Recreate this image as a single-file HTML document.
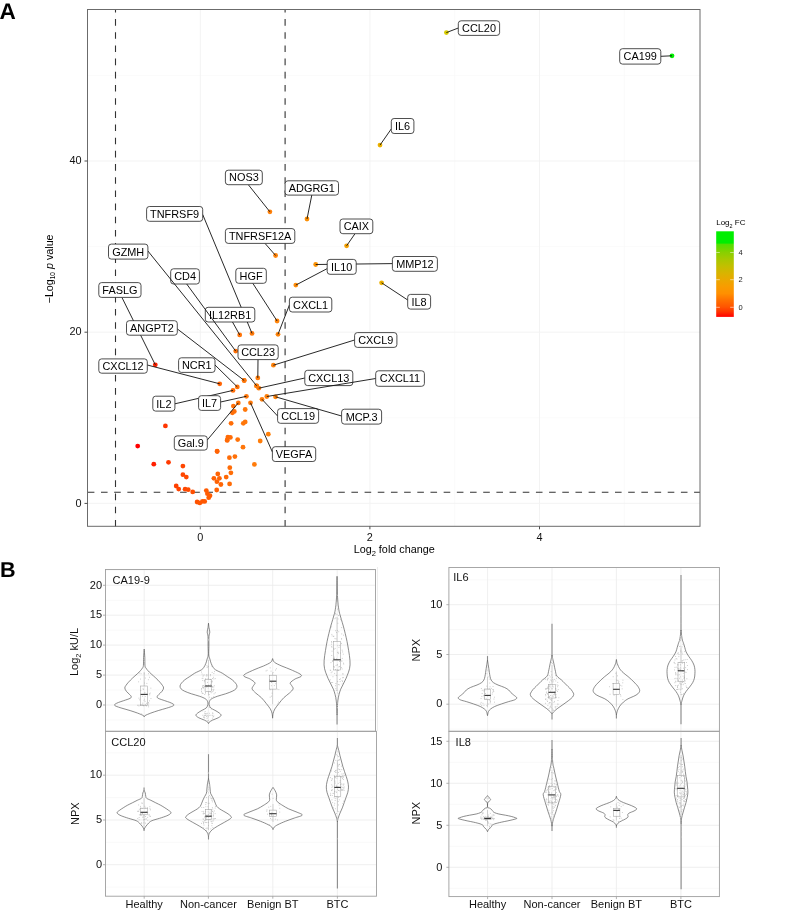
<!DOCTYPE html>
<html><head><meta charset="utf-8"><style>
html,body{margin:0;padding:0;background:#fff;}
svg{display:block;will-change:transform;}
text{font-family:"Liberation Sans", sans-serif;}
</style></head><body>
<svg width="787" height="913" viewBox="0 0 787 913" font-family='"Liberation Sans", sans-serif'><rect x="0" y="0" width="787" height="913" fill="#fff"/>
<line x1="115.5" y1="9.5" x2="115.5" y2="526.3" stroke="#f7f7f7" stroke-width="0.6"/><line x1="285.1" y1="9.5" x2="285.1" y2="526.3" stroke="#f7f7f7" stroke-width="0.6"/><line x1="454.7" y1="9.5" x2="454.7" y2="526.3" stroke="#f7f7f7" stroke-width="0.6"/><line x1="624.3" y1="9.5" x2="624.3" y2="526.3" stroke="#f7f7f7" stroke-width="0.6"/><line x1="87.5" y1="417.8" x2="700.0" y2="417.8" stroke="#f7f7f7" stroke-width="0.6"/><line x1="87.5" y1="246.6" x2="700.0" y2="246.6" stroke="#f7f7f7" stroke-width="0.6"/><line x1="87.5" y1="75.4" x2="700.0" y2="75.4" stroke="#f7f7f7" stroke-width="0.6"/><line x1="200.3" y1="9.5" x2="200.3" y2="526.3" stroke="#f2f2f2" stroke-width="0.9"/><line x1="369.9" y1="9.5" x2="369.9" y2="526.3" stroke="#f2f2f2" stroke-width="0.9"/><line x1="539.5" y1="9.5" x2="539.5" y2="526.3" stroke="#f2f2f2" stroke-width="0.9"/><line x1="87.5" y1="503.4" x2="700.0" y2="503.4" stroke="#f2f2f2" stroke-width="0.9"/><line x1="87.5" y1="332.2" x2="700.0" y2="332.2" stroke="#f2f2f2" stroke-width="0.9"/><line x1="87.5" y1="161.0" x2="700.0" y2="161.0" stroke="#f2f2f2" stroke-width="0.9"/>
<line x1="115.5" y1="526.5" x2="115.5" y2="9.5" stroke="#333" stroke-width="1.1" stroke-dasharray="6.6 6.58"/>
<line x1="285.1" y1="526.5" x2="285.1" y2="9.5" stroke="#333" stroke-width="1.1" stroke-dasharray="6.6 6.58"/>
<line x1="87.8" y1="492.2" x2="700.0" y2="492.2" stroke="#333" stroke-width="1.1" stroke-dasharray="6.6 6.58"/>
<circle cx="153.8" cy="464.2" r="2.4" fill="#ff1f00"/><circle cx="168.5" cy="462.3" r="2.4" fill="#ff3a00"/><circle cx="137.7" cy="446.1" r="2.4" fill="#ff0000"/><circle cx="165.4" cy="425.9" r="2.4" fill="#ff3600"/><circle cx="182.9" cy="466.1" r="2.4" fill="#ff4600"/><circle cx="182.9" cy="474.7" r="2.4" fill="#ff4600"/><circle cx="186.3" cy="477.1" r="2.4" fill="#ff4900"/><circle cx="176.2" cy="486.0" r="2.4" fill="#ff4000"/><circle cx="178.7" cy="489.1" r="2.4" fill="#ff4300"/><circle cx="185.1" cy="489.2" r="2.4" fill="#ff4800"/><circle cx="188.2" cy="489.7" r="2.4" fill="#ff4b00"/><circle cx="192.7" cy="491.9" r="2.4" fill="#ff4f00"/><circle cx="197.1" cy="502.0" r="2.4" fill="#ff5200"/><circle cx="199.8" cy="502.9" r="2.4" fill="#ff5500"/><circle cx="202.5" cy="501.3" r="2.4" fill="#ff5701"/><circle cx="204.7" cy="501.4" r="2.4" fill="#ff5801"/><circle cx="206.3" cy="490.6" r="2.4" fill="#ff5a01"/><circle cx="207.4" cy="493.7" r="2.4" fill="#ff5b02"/><circle cx="210.0" cy="495.7" r="2.4" fill="#ff5d02"/><circle cx="208.7" cy="497.7" r="2.4" fill="#ff5c02"/><circle cx="216.7" cy="490.0" r="2.4" fill="#ff6204"/><circle cx="213.9" cy="478.3" r="2.4" fill="#ff6003"/><circle cx="217.8" cy="473.9" r="2.4" fill="#ff6304"/><circle cx="219.4" cy="478.3" r="2.4" fill="#ff6405"/><circle cx="216.9" cy="481.7" r="2.4" fill="#ff6204"/><circle cx="220.9" cy="484.5" r="2.4" fill="#ff6505"/><circle cx="226.2" cy="477.1" r="2.4" fill="#ff6906"/><circle cx="229.6" cy="483.9" r="2.4" fill="#ff6c07"/><circle cx="230.9" cy="472.8" r="2.4" fill="#ff6d07"/><circle cx="229.8" cy="467.7" r="2.4" fill="#ff6c07"/><circle cx="229.4" cy="457.7" r="2.4" fill="#ff6c07"/><circle cx="234.9" cy="456.6" r="2.4" fill="#ff7008"/><circle cx="217.1" cy="451.1" r="2.4" fill="#ff6204"/><circle cx="227.2" cy="440.4" r="2.4" fill="#ff6a06"/><circle cx="243.0" cy="447.2" r="2.4" fill="#ff760a"/><circle cx="254.4" cy="464.4" r="2.4" fill="#ff7b0a"/><circle cx="260.2" cy="441.0" r="2.4" fill="#ff7d0a"/><circle cx="268.3" cy="434.2" r="2.4" fill="#ff800a"/><circle cx="233.4" cy="406.1" r="2.4" fill="#ff6f08"/><circle cx="245.2" cy="409.5" r="2.4" fill="#ff770a"/><circle cx="234.3" cy="411.4" r="2.4" fill="#ff6f08"/><circle cx="232.4" cy="412.8" r="2.4" fill="#ff6e08"/><circle cx="231.1" cy="423.3" r="2.4" fill="#ff6d07"/><circle cx="243.3" cy="423.3" r="2.4" fill="#ff760a"/><circle cx="245.2" cy="421.9" r="2.4" fill="#ff770a"/><circle cx="227.9" cy="437.1" r="2.4" fill="#ff6a07"/><circle cx="230.4" cy="437.4" r="2.4" fill="#ff6c07"/><circle cx="227.2" cy="439.9" r="2.4" fill="#ff6a06"/><circle cx="237.7" cy="439.6" r="2.4" fill="#ff7209"/><circle cx="217.2" cy="451.5" r="2.4" fill="#ff6204"/><circle cx="244.2" cy="380.5" r="2.4" fill="#ff770a"/><circle cx="256.6" cy="385.8" r="2.4" fill="#ff7c0a"/><circle cx="446.4" cy="32.6" r="2.4" fill="#d8cc00"/><circle cx="672.0" cy="55.8" r="2.4" fill="#00ee00"/><circle cx="380.0" cy="145.1" r="2.4" fill="#ecb100"/><circle cx="269.9" cy="211.8" r="2.4" fill="#ff810a"/><circle cx="307.0" cy="219.0" r="2.4" fill="#fc8f05"/><circle cx="252.0" cy="333.4" r="2.4" fill="#ff7a0a"/><circle cx="346.6" cy="245.8" r="2.4" fill="#f5a000"/><circle cx="275.6" cy="255.5" r="2.4" fill="#ff830a"/><circle cx="256.6" cy="385.8" r="2.4" fill="#ff7c0a"/><circle cx="315.7" cy="264.5" r="2.4" fill="#fb9203"/><circle cx="295.8" cy="285.1" r="2.4" fill="#fe8b07"/><circle cx="235.7" cy="351.1" r="2.4" fill="#ff7108"/><circle cx="277.1" cy="321.0" r="2.4" fill="#ff840a"/><circle cx="155.3" cy="364.8" r="2.4" fill="#ff2200"/><circle cx="381.6" cy="282.8" r="2.4" fill="#ecb100"/><circle cx="278.0" cy="334.3" r="2.4" fill="#ff840a"/><circle cx="239.7" cy="334.9" r="2.4" fill="#ff7409"/><circle cx="244.2" cy="380.5" r="2.4" fill="#ff770a"/><circle cx="273.4" cy="365.2" r="2.4" fill="#ff820a"/><circle cx="257.8" cy="377.9" r="2.4" fill="#ff7c0a"/><circle cx="219.7" cy="383.8" r="2.4" fill="#ff6405"/><circle cx="237.3" cy="386.9" r="2.4" fill="#ff7209"/><circle cx="258.8" cy="388.2" r="2.4" fill="#ff7c0a"/><circle cx="266.8" cy="396.5" r="2.4" fill="#ff800a"/><circle cx="233.0" cy="390.4" r="2.4" fill="#ff6e08"/><circle cx="246.4" cy="396.3" r="2.4" fill="#ff770a"/><circle cx="262.0" cy="399.3" r="2.4" fill="#ff7e0a"/><circle cx="275.5" cy="396.8" r="2.4" fill="#ff830a"/><circle cx="238.3" cy="402.9" r="2.4" fill="#ff7309"/><circle cx="250.5" cy="402.8" r="2.4" fill="#ff790a"/>
<line x1="458.3" y1="28.0" x2="446.4" y2="32.6" stroke="#111" stroke-width="0.9"/><rect x="458.3" y="20.8" width="41.3" height="14.6" rx="2.8" fill="#fff" stroke="#222" stroke-width="0.8"/><text x="479.0" y="32.0" text-anchor="middle" font-size="10.9">CCL20</text><line x1="660.8" y1="56.3" x2="672.0" y2="55.8" stroke="#111" stroke-width="0.9"/><rect x="619.7" y="48.7" width="41.1" height="15.4" rx="2.8" fill="#fff" stroke="#222" stroke-width="0.8"/><text x="640.2" y="60.2" text-anchor="middle" font-size="10.9">CA199</text><line x1="391.3" y1="128.9" x2="380.0" y2="145.1" stroke="#111" stroke-width="0.9"/><rect x="391.3" y="118.5" width="22.6" height="15.0" rx="2.8" fill="#fff" stroke="#222" stroke-width="0.8"/><text x="402.6" y="129.8" text-anchor="middle" font-size="10.9">IL6</text><line x1="248.3" y1="184.7" x2="269.9" y2="211.8" stroke="#111" stroke-width="0.9"/><rect x="225.4" y="170.2" width="36.9" height="14.5" rx="2.8" fill="#fff" stroke="#222" stroke-width="0.8"/><text x="243.9" y="181.3" text-anchor="middle" font-size="10.9">NOS3</text><line x1="311.8" y1="195.1" x2="307.0" y2="219.0" stroke="#111" stroke-width="0.9"/><rect x="285.1" y="180.8" width="53.4" height="14.3" rx="2.8" fill="#fff" stroke="#222" stroke-width="0.8"/><text x="311.8" y="191.8" text-anchor="middle" font-size="10.9">ADGRG1</text><line x1="355.0" y1="233.7" x2="346.6" y2="245.8" stroke="#111" stroke-width="0.9"/><rect x="340.0" y="219.0" width="32.8" height="14.7" rx="2.8" fill="#fff" stroke="#222" stroke-width="0.8"/><text x="356.4" y="230.2" text-anchor="middle" font-size="10.9">CAIX</text><line x1="265.0" y1="243.4" x2="275.6" y2="255.5" stroke="#111" stroke-width="0.9"/><rect x="225.4" y="228.6" width="69.4" height="14.8" rx="2.8" fill="#fff" stroke="#222" stroke-width="0.8"/><text x="260.1" y="239.8" text-anchor="middle" font-size="10.9">TNFRSF12A</text><line x1="252.8" y1="283.3" x2="277.1" y2="321.0" stroke="#111" stroke-width="0.9"/><rect x="235.8" y="268.3" width="30.5" height="15.0" rx="2.8" fill="#fff" stroke="#222" stroke-width="0.8"/><text x="251.1" y="279.7" text-anchor="middle" font-size="10.9">HGF</text><line x1="407.7" y1="300.0" x2="381.6" y2="282.8" stroke="#111" stroke-width="0.9"/><rect x="407.7" y="294.4" width="22.9" height="14.7" rx="2.8" fill="#fff" stroke="#222" stroke-width="0.8"/><text x="419.1" y="305.6" text-anchor="middle" font-size="10.9">IL8</text><line x1="289.4" y1="305.0" x2="278.0" y2="334.3" stroke="#111" stroke-width="0.9"/><rect x="289.4" y="297.2" width="42.4" height="14.8" rx="2.8" fill="#fff" stroke="#222" stroke-width="0.8"/><text x="310.6" y="308.5" text-anchor="middle" font-size="10.9">CXCL1</text><line x1="354.6" y1="340.0" x2="273.4" y2="365.2" stroke="#111" stroke-width="0.9"/><rect x="354.6" y="332.6" width="42.3" height="14.8" rx="2.8" fill="#fff" stroke="#222" stroke-width="0.8"/><text x="375.8" y="343.9" text-anchor="middle" font-size="10.9">CXCL9</text><line x1="258.0" y1="359.6" x2="257.8" y2="377.9" stroke="#111" stroke-width="0.9"/><rect x="238.0" y="344.9" width="40.2" height="14.7" rx="2.8" fill="#fff" stroke="#222" stroke-width="0.8"/><text x="258.1" y="356.1" text-anchor="middle" font-size="10.9">CCL23</text><line x1="147.3" y1="365.0" x2="219.7" y2="383.8" stroke="#111" stroke-width="0.9"/><rect x="98.8" y="358.9" width="48.5" height="14.3" rx="2.8" fill="#fff" stroke="#222" stroke-width="0.8"/><text x="123.1" y="369.9" text-anchor="middle" font-size="10.9">CXCL12</text><line x1="215.0" y1="365.0" x2="237.3" y2="386.9" stroke="#111" stroke-width="0.9"/><rect x="178.6" y="357.8" width="36.4" height="14.6" rx="2.8" fill="#fff" stroke="#222" stroke-width="0.8"/><text x="196.8" y="369.0" text-anchor="middle" font-size="10.9">NCR1</text><line x1="277.6" y1="416.0" x2="262.0" y2="399.3" stroke="#111" stroke-width="0.9"/><rect x="277.6" y="408.6" width="41.0" height="14.7" rx="2.8" fill="#fff" stroke="#222" stroke-width="0.8"/><text x="298.1" y="419.8" text-anchor="middle" font-size="10.9">CCL19</text><line x1="341.6" y1="416.0" x2="275.5" y2="396.8" stroke="#111" stroke-width="0.9"/><rect x="341.6" y="409.2" width="40.0" height="14.9" rx="2.8" fill="#fff" stroke="#222" stroke-width="0.8"/><text x="361.6" y="420.5" text-anchor="middle" font-size="10.9">MCP.3</text><line x1="207.3" y1="440.0" x2="238.3" y2="402.9" stroke="#111" stroke-width="0.9"/><rect x="174.3" y="435.9" width="33.0" height="14.2" rx="2.8" fill="#fff" stroke="#222" stroke-width="0.8"/><text x="190.8" y="446.9" text-anchor="middle" font-size="10.9">Gal.9</text><line x1="272.4" y1="452.0" x2="250.5" y2="402.8" stroke="#111" stroke-width="0.9"/><rect x="272.4" y="446.7" width="43.3" height="14.8" rx="2.8" fill="#fff" stroke="#222" stroke-width="0.8"/><text x="294.0" y="458.0" text-anchor="middle" font-size="10.9">VEGFA</text><line x1="202.7" y1="214.5" x2="252.0" y2="333.4" stroke="#111" stroke-width="0.9"/><rect x="146.6" y="206.5" width="56.1" height="14.8" rx="2.8" fill="#fff" stroke="#222" stroke-width="0.8"/><text x="174.6" y="217.8" text-anchor="middle" font-size="10.9">TNFRSF9</text><line x1="232.5" y1="322.0" x2="239.7" y2="334.9" stroke="#111" stroke-width="0.9"/><rect x="205.3" y="307.3" width="49.5" height="14.7" rx="2.8" fill="#fff" stroke="#222" stroke-width="0.8"/><text x="230.1" y="318.5" text-anchor="middle" font-size="10.9">IL12RB1</text><line x1="186.7" y1="284.0" x2="235.7" y2="351.1" stroke="#111" stroke-width="0.9"/><rect x="170.7" y="268.8" width="28.7" height="15.2" rx="2.8" fill="#fff" stroke="#222" stroke-width="0.8"/><text x="185.1" y="280.2" text-anchor="middle" font-size="10.9">CD4</text><line x1="147.9" y1="251.0" x2="256.6" y2="385.8" stroke="#111" stroke-width="0.9"/><rect x="108.5" y="244.1" width="39.4" height="15.0" rx="2.8" fill="#fff" stroke="#222" stroke-width="0.8"/><text x="128.2" y="255.5" text-anchor="middle" font-size="10.9">GZMH</text><line x1="121.9" y1="297.4" x2="155.3" y2="364.8" stroke="#111" stroke-width="0.9"/><rect x="98.8" y="282.6" width="42.2" height="14.8" rx="2.8" fill="#fff" stroke="#222" stroke-width="0.8"/><text x="119.9" y="293.9" text-anchor="middle" font-size="10.9">FASLG</text><line x1="177.3" y1="328.9" x2="244.2" y2="380.5" stroke="#111" stroke-width="0.9"/><rect x="126.5" y="320.7" width="50.8" height="14.5" rx="2.8" fill="#fff" stroke="#222" stroke-width="0.8"/><text x="151.9" y="331.8" text-anchor="middle" font-size="10.9">ANGPT2</text><line x1="392.4" y1="263.6" x2="315.7" y2="264.5" stroke="#111" stroke-width="0.9"/><rect x="392.4" y="256.5" width="45.0" height="14.8" rx="2.8" fill="#fff" stroke="#222" stroke-width="0.8"/><text x="414.9" y="267.8" text-anchor="middle" font-size="10.9">MMP12</text><line x1="327.2" y1="268.6" x2="295.8" y2="285.1" stroke="#111" stroke-width="0.9"/><rect x="327.2" y="259.4" width="29.0" height="14.9" rx="2.8" fill="#fff" stroke="#222" stroke-width="0.8"/><text x="341.7" y="270.7" text-anchor="middle" font-size="10.9">IL10</text><line x1="304.8" y1="378.0" x2="258.8" y2="388.2" stroke="#111" stroke-width="0.9"/><rect x="304.8" y="370.3" width="48.0" height="15.3" rx="2.8" fill="#fff" stroke="#222" stroke-width="0.8"/><text x="328.8" y="381.8" text-anchor="middle" font-size="10.9">CXCL13</text><line x1="375.7" y1="378.5" x2="266.8" y2="396.5" stroke="#111" stroke-width="0.9"/><rect x="375.7" y="370.8" width="48.7" height="15.5" rx="2.8" fill="#fff" stroke="#222" stroke-width="0.8"/><text x="400.0" y="382.4" text-anchor="middle" font-size="10.9">CXCL11</text><line x1="174.9" y1="403.8" x2="233.0" y2="390.4" stroke="#111" stroke-width="0.9"/><rect x="152.8" y="396.2" width="22.1" height="14.9" rx="2.8" fill="#fff" stroke="#222" stroke-width="0.8"/><text x="163.9" y="407.5" text-anchor="middle" font-size="10.9">IL2</text><line x1="220.6" y1="402.0" x2="246.4" y2="396.3" stroke="#111" stroke-width="0.9"/><rect x="198.6" y="395.7" width="22.0" height="14.7" rx="2.8" fill="#fff" stroke="#222" stroke-width="0.8"/><text x="209.6" y="406.9" text-anchor="middle" font-size="10.9">IL7</text>
<rect x="87.5" y="9.5" width="612.5" height="516.8" fill="none" stroke="#6b6b6b" stroke-width="1.0"/>
<line x1="200.3" y1="526.3" x2="200.3" y2="529.3" stroke="#4d4d4d" stroke-width="1"/><text x="200.3" y="541" text-anchor="middle" font-size="10.9" fill="#111">0</text><line x1="369.9" y1="526.3" x2="369.9" y2="529.3" stroke="#4d4d4d" stroke-width="1"/><text x="369.9" y="541" text-anchor="middle" font-size="10.9" fill="#111">2</text><line x1="539.5" y1="526.3" x2="539.5" y2="529.3" stroke="#4d4d4d" stroke-width="1"/><text x="539.5" y="541" text-anchor="middle" font-size="10.9" fill="#111">4</text><line x1="84.5" y1="503.4" x2="87.5" y2="503.4" stroke="#4d4d4d" stroke-width="1"/><text x="81.5" y="506.6" text-anchor="end" font-size="10.9" fill="#111">0</text><line x1="84.5" y1="332.2" x2="87.5" y2="332.2" stroke="#4d4d4d" stroke-width="1"/><text x="81.5" y="335.4" text-anchor="end" font-size="10.9" fill="#111">20</text><line x1="84.5" y1="161.0" x2="87.5" y2="161.0" stroke="#4d4d4d" stroke-width="1"/><text x="81.5" y="164.2" text-anchor="end" font-size="10.9" fill="#111">40</text>
<text x="353.7" y="553.2" font-size="10.8">Log<tspan font-size="7.5" dy="2.6">2</tspan><tspan dy="-2.6"> fold change</tspan></text>
<text transform="translate(52.5,303.4) rotate(-90)" font-size="10.75">−Log<tspan font-size="6.4" dy="2.9">10</tspan><tspan dy="-2.9"> </tspan><tspan font-style="italic">p</tspan> value</text>
<defs><linearGradient id="lg" x1="0" y1="1" x2="0" y2="0"><stop offset="0.000" stop-color="#ff0000"/><stop offset="0.059" stop-color="#ff3200"/><stop offset="0.115" stop-color="#ff5400"/><stop offset="0.195" stop-color="#ff7000"/><stop offset="0.274" stop-color="#ff9000"/><stop offset="0.354" stop-color="#f89c00"/><stop offset="0.434" stop-color="#eaa800"/><stop offset="0.514" stop-color="#d8b400"/><stop offset="0.593" stop-color="#c2bf00"/><stop offset="0.673" stop-color="#a8c800"/><stop offset="0.753" stop-color="#88d000"/><stop offset="0.852" stop-color="#50e000"/><stop offset="0.861" stop-color="#00ee00"/><stop offset="1.000" stop-color="#00ee00"/></linearGradient></defs>
<rect x="716.2" y="231.3" width="17.6" height="85.6" fill="url(#lg)"/>
<line x1="716.2" y1="252.4" x2="719.8" y2="252.4" stroke="#fff" stroke-width="0.8" opacity="0.7"/>
<line x1="730.2" y1="252.4" x2="733.8" y2="252.4" stroke="#fff" stroke-width="0.8" opacity="0.7"/>
<text x="738.6" y="254.6" font-size="7.5" fill="#222">4</text>
<line x1="716.2" y1="279.7" x2="719.8" y2="279.7" stroke="#fff" stroke-width="0.8" opacity="0.7"/>
<line x1="730.2" y1="279.7" x2="733.8" y2="279.7" stroke="#fff" stroke-width="0.8" opacity="0.7"/>
<text x="738.6" y="281.9" font-size="7.5" fill="#222">2</text>
<line x1="716.2" y1="307.3" x2="719.8" y2="307.3" stroke="#fff" stroke-width="0.8" opacity="0.7"/>
<line x1="730.2" y1="307.3" x2="733.8" y2="307.3" stroke="#fff" stroke-width="0.8" opacity="0.7"/>
<text x="738.6" y="309.5" font-size="7.5" fill="#222">0</text>
<text x="716.2" y="224.9" font-size="8">Log<tspan font-size="5.4" dy="2.6">2</tspan><tspan dy="-2.6"> FC</tspan></text>
<line x1="377.5" y1="567" x2="377.5" y2="731" stroke="#e8e8e8" stroke-width="0.8"/>
<line x1="105.5" y1="720.0" x2="375.5" y2="720.0" stroke="#f2f2f2" stroke-width="0.5"/><line x1="105.5" y1="690.0" x2="375.5" y2="690.0" stroke="#f2f2f2" stroke-width="0.5"/><line x1="105.5" y1="660.1" x2="375.5" y2="660.1" stroke="#f2f2f2" stroke-width="0.5"/><line x1="105.5" y1="630.2" x2="375.5" y2="630.2" stroke="#f2f2f2" stroke-width="0.5"/><line x1="105.5" y1="600.3" x2="375.5" y2="600.3" stroke="#f2f2f2" stroke-width="0.5"/><line x1="105.5" y1="570.3" x2="375.5" y2="570.3" stroke="#f2f2f2" stroke-width="0.5"/><line x1="105.5" y1="705.0" x2="375.5" y2="705.0" stroke="#ebebeb" stroke-width="0.8"/><line x1="105.5" y1="675.1" x2="375.5" y2="675.1" stroke="#ebebeb" stroke-width="0.8"/><line x1="105.5" y1="645.1" x2="375.5" y2="645.1" stroke="#ebebeb" stroke-width="0.8"/><line x1="105.5" y1="615.2" x2="375.5" y2="615.2" stroke="#ebebeb" stroke-width="0.8"/><line x1="105.5" y1="585.3" x2="375.5" y2="585.3" stroke="#ebebeb" stroke-width="0.8"/><line x1="144.2" y1="569.5" x2="144.2" y2="731.3" stroke="#ebebeb" stroke-width="0.8"/><line x1="208.4" y1="569.5" x2="208.4" y2="731.3" stroke="#ebebeb" stroke-width="0.8"/><line x1="272.7" y1="569.5" x2="272.7" y2="731.3" stroke="#ebebeb" stroke-width="0.8"/><line x1="337.2" y1="569.5" x2="337.2" y2="731.3" stroke="#ebebeb" stroke-width="0.8"/>
<path d="M144.20,649.10 C144.30,650.48 144.67,654.65 144.80,657.40 C144.93,660.15 144.80,663.82 145.00,665.60 C145.20,667.38 145.52,667.27 146.00,668.10 C146.48,668.93 147.03,669.63 147.90,670.60 C148.77,671.57 149.88,672.67 151.20,673.90 C152.52,675.13 154.35,676.62 155.80,678.00 C157.25,679.38 158.78,680.95 159.90,682.20 C161.02,683.45 161.88,684.53 162.50,685.50 C163.12,686.47 163.68,687.03 163.60,688.00 C163.52,688.97 162.82,690.20 162.00,691.30 C161.18,692.40 159.50,693.73 158.70,694.60 C157.90,695.47 157.28,695.88 157.20,696.50 C157.12,697.12 156.93,697.60 158.20,698.30 C159.47,699.00 162.87,700.02 164.80,700.70 C166.73,701.38 168.42,701.85 169.80,702.40 C171.18,702.95 172.43,703.58 173.10,704.00 C173.77,704.42 173.87,704.55 173.80,704.90 C173.73,705.25 173.92,705.55 172.70,706.10 C171.48,706.65 168.92,707.45 166.50,708.20 C164.08,708.95 160.82,709.78 158.20,710.60 C155.58,711.42 153.00,712.27 150.80,713.10 C148.60,713.93 146.10,714.98 145.00,715.60 C143.90,716.22 144.33,716.60 144.20,716.80 C144.07,716.60 144.50,716.22 143.40,715.60 C142.30,714.98 139.80,713.93 137.60,713.10 C135.40,712.27 132.82,711.42 130.20,710.60 C127.58,709.78 124.32,708.95 121.90,708.20 C119.48,707.45 116.92,706.65 115.70,706.10 C114.48,705.55 114.67,705.25 114.60,704.90 C114.53,704.55 114.63,704.42 115.30,704.00 C115.97,703.58 117.22,702.95 118.60,702.40 C119.98,701.85 121.67,701.38 123.60,700.70 C125.53,700.02 128.93,699.00 130.20,698.30 C131.47,697.60 131.28,697.12 131.20,696.50 C131.12,695.88 130.50,695.47 129.70,694.60 C128.90,693.73 127.22,692.40 126.40,691.30 C125.58,690.20 124.88,688.97 124.80,688.00 C124.72,687.03 125.28,686.47 125.90,685.50 C126.52,684.53 127.38,683.45 128.50,682.20 C129.62,680.95 131.15,679.38 132.60,678.00 C134.05,676.62 135.88,675.13 137.20,673.90 C138.52,672.67 139.63,671.57 140.50,670.60 C141.37,669.63 141.92,668.93 142.40,668.10 C142.88,667.27 143.20,667.38 143.40,665.60 C143.60,663.82 143.47,660.15 143.60,657.40 C143.73,654.65 144.10,650.48 144.20,649.10 Z" fill="none" stroke="#5a5a5a" stroke-width="0.7"/><path d="M208.50,623.20 C208.58,623.93 208.78,626.13 209.00,627.60 C209.22,629.07 209.80,630.53 209.80,632.00 C209.80,633.47 209.15,633.98 209.00,636.40 C208.85,638.82 208.93,643.40 208.90,646.50 C208.87,649.60 208.63,652.90 208.80,655.00 C208.97,657.10 209.52,657.72 209.90,659.10 C210.28,660.48 210.55,661.92 211.10,663.30 C211.65,664.68 212.43,666.30 213.20,667.40 C213.97,668.50 214.18,668.93 215.70,669.90 C217.22,670.87 220.38,672.10 222.30,673.20 C224.22,674.30 225.55,675.40 227.20,676.50 C228.85,677.60 230.82,678.70 232.20,679.80 C233.58,680.90 234.70,682.07 235.50,683.10 C236.30,684.13 236.93,685.03 237.00,686.00 C237.07,686.97 236.70,688.02 235.90,688.90 C235.10,689.78 233.92,690.48 232.20,691.30 C230.48,692.12 228.08,692.97 225.60,693.80 C223.12,694.63 219.63,695.47 217.30,696.30 C214.97,697.13 212.90,697.97 211.60,698.80 C210.30,699.63 209.92,700.33 209.50,701.30 C209.08,702.27 208.90,703.50 209.10,704.60 C209.30,705.70 209.73,706.95 210.70,707.90 C211.67,708.85 213.52,709.48 214.90,710.30 C216.28,711.12 217.97,711.97 219.00,712.80 C220.03,713.63 221.23,714.47 221.10,715.30 C220.97,716.13 219.65,716.98 218.20,717.80 C216.75,718.62 213.92,719.45 212.40,720.20 C210.88,720.95 209.75,721.73 209.10,722.30 C208.45,722.87 208.60,723.38 208.50,723.60 C208.40,723.38 208.55,722.87 207.90,722.30 C207.25,721.73 206.12,720.95 204.60,720.20 C203.08,719.45 200.25,718.62 198.80,717.80 C197.35,716.98 196.03,716.13 195.90,715.30 C195.77,714.47 196.97,713.63 198.00,712.80 C199.03,711.97 200.72,711.12 202.10,710.30 C203.48,709.48 205.33,708.85 206.30,707.90 C207.27,706.95 207.70,705.70 207.90,704.60 C208.10,703.50 207.92,702.27 207.50,701.30 C207.08,700.33 206.70,699.63 205.40,698.80 C204.10,697.97 202.03,697.13 199.70,696.30 C197.37,695.47 193.88,694.63 191.40,693.80 C188.92,692.97 186.52,692.12 184.80,691.30 C183.08,690.48 181.90,689.78 181.10,688.90 C180.30,688.02 179.93,686.97 180.00,686.00 C180.07,685.03 180.70,684.13 181.50,683.10 C182.30,682.07 183.42,680.90 184.80,679.80 C186.18,678.70 188.15,677.60 189.80,676.50 C191.45,675.40 192.78,674.30 194.70,673.20 C196.62,672.10 199.78,670.87 201.30,669.90 C202.82,668.93 203.03,668.50 203.80,667.40 C204.57,666.30 205.35,664.68 205.90,663.30 C206.45,661.92 206.72,660.48 207.10,659.10 C207.48,657.72 208.03,657.10 208.20,655.00 C208.37,652.90 208.13,649.60 208.10,646.50 C208.07,643.40 208.15,638.82 208.00,636.40 C207.85,633.98 207.20,633.47 207.20,632.00 C207.20,630.53 207.78,629.07 208.00,627.60 C208.22,626.13 208.42,623.93 208.50,623.20 Z" fill="none" stroke="#5a5a5a" stroke-width="0.7"/><path d="M272.60,658.60 C272.92,659.22 272.95,661.05 274.50,662.30 C276.05,663.55 279.12,664.85 281.90,666.10 C284.68,667.35 287.93,668.25 291.20,669.80 C294.47,671.35 300.88,673.85 301.50,675.40 C302.12,676.95 296.77,677.87 294.90,679.10 C293.03,680.33 290.83,681.72 290.30,682.80 C289.77,683.88 291.23,684.58 291.70,685.60 C292.17,686.62 293.48,687.65 293.10,688.90 C292.72,690.15 290.95,691.63 289.40,693.10 C287.85,694.57 285.52,696.00 283.80,697.70 C282.08,699.40 280.58,701.43 279.10,703.30 C277.62,705.17 275.90,707.20 274.90,708.90 C273.90,710.60 273.48,711.95 273.10,713.50 C272.72,715.05 272.68,717.42 272.60,718.20 C272.52,717.42 272.48,715.05 272.10,713.50 C271.72,711.95 271.30,710.60 270.30,708.90 C269.30,707.20 267.58,705.17 266.10,703.30 C264.62,701.43 263.12,699.40 261.40,697.70 C259.68,696.00 257.35,694.57 255.80,693.10 C254.25,691.63 252.48,690.15 252.10,688.90 C251.72,687.65 253.03,686.62 253.50,685.60 C253.97,684.58 255.43,683.88 254.90,682.80 C254.37,681.72 252.17,680.33 250.30,679.10 C248.43,677.87 243.08,676.95 243.70,675.40 C244.32,673.85 250.73,671.35 254.00,669.80 C257.27,668.25 260.52,667.35 263.30,666.10 C266.08,664.85 269.15,663.55 270.70,662.30 C272.25,661.05 272.28,659.22 272.60,658.60 Z" fill="none" stroke="#5a5a5a" stroke-width="0.7"/><line x1="337.05" y1="714.1" x2="337.05" y2="724.5" stroke="#8a8a8a" stroke-width="1.1"/><path d="M337.05,576.30 C337.13,579.77 337.25,591.52 337.55,597.10 C337.85,602.68 338.33,606.48 338.85,609.80 C339.37,613.12 339.75,613.70 340.65,617.00 C341.55,620.30 343.05,624.78 344.25,629.60 C345.45,634.42 346.88,640.02 347.85,645.90 C348.82,651.78 350.35,659.48 350.05,664.90 C349.75,670.32 347.62,674.33 346.05,678.40 C344.48,682.47 342.00,685.68 340.65,689.30 C339.30,692.92 338.55,695.88 337.95,700.10 C337.35,704.32 337.20,712.18 337.05,714.60 C336.90,712.18 336.75,704.32 336.15,700.10 C335.55,695.88 334.80,692.92 333.45,689.30 C332.10,685.68 329.62,682.47 328.05,678.40 C326.48,674.33 324.35,670.32 324.05,664.90 C323.75,659.48 325.28,651.78 326.25,645.90 C327.22,640.02 328.65,634.42 329.85,629.60 C331.05,624.78 332.55,620.30 333.45,617.00 C334.35,613.70 334.73,613.12 335.25,609.80 C335.77,606.48 336.25,602.68 336.55,597.10 C336.85,591.52 336.97,579.77 337.05,576.30 Z" fill="none" stroke="#5a5a5a" stroke-width="0.7"/>
<rect x="144.3" y="692.7" width="0.9" height="0.9" fill="#c4c4c4"/><rect x="143.8" y="673.4" width="0.9" height="0.9" fill="#c4c4c4"/><rect x="150.4" y="687.7" width="0.9" height="0.9" fill="#c4c4c4"/><rect x="144.9" y="703.9" width="0.9" height="0.9" fill="#c4c4c4"/><rect x="144.4" y="691.9" width="0.9" height="0.9" fill="#c4c4c4"/><rect x="144.9" y="677.6" width="0.9" height="0.9" fill="#c4c4c4"/><rect x="147.9" y="679.3" width="0.9" height="0.9" fill="#c4c4c4"/><rect x="144.8" y="696.0" width="0.9" height="0.9" fill="#c4c4c4"/><rect x="150.5" y="698.0" width="0.9" height="0.9" fill="#c4c4c4"/><rect x="143.6" y="699.9" width="0.9" height="0.9" fill="#c4c4c4"/><rect x="149.0" y="700.4" width="0.9" height="0.9" fill="#c4c4c4"/><rect x="143.1" y="688.9" width="0.9" height="0.9" fill="#c4c4c4"/><rect x="143.4" y="705.5" width="0.9" height="0.9" fill="#c4c4c4"/><rect x="146.6" y="693.6" width="0.9" height="0.9" fill="#c4c4c4"/><rect x="142.2" y="704.3" width="0.9" height="0.9" fill="#c4c4c4"/><rect x="143.2" y="693.9" width="0.9" height="0.9" fill="#c4c4c4"/><rect x="140.6" y="704.1" width="0.9" height="0.9" fill="#c4c4c4"/><rect x="149.1" y="676.8" width="0.9" height="0.9" fill="#c4c4c4"/><rect x="141.2" y="713.5" width="0.9" height="0.9" fill="#c4c4c4"/><rect x="143.6" y="666.4" width="0.9" height="0.9" fill="#c4c4c4"/><rect x="149.3" y="694.4" width="0.9" height="0.9" fill="#c4c4c4"/><rect x="142.3" y="702.7" width="0.9" height="0.9" fill="#c4c4c4"/><rect x="139.3" y="671.7" width="0.9" height="0.9" fill="#c4c4c4"/><rect x="148.1" y="673.3" width="0.9" height="0.9" fill="#c4c4c4"/><rect x="140.3" y="690.2" width="0.9" height="0.9" fill="#c4c4c4"/><rect x="138.2" y="681.4" width="0.9" height="0.9" fill="#c4c4c4"/><rect x="137.1" y="704.8" width="0.9" height="0.9" fill="#c4c4c4"/><rect x="141.9" y="695.8" width="0.9" height="0.9" fill="#c4c4c4"/><rect x="148.2" y="706.4" width="0.9" height="0.9" fill="#c4c4c4"/><rect x="144.0" y="698.7" width="0.9" height="0.9" fill="#c4c4c4"/><rect x="138.7" y="672.7" width="0.9" height="0.9" fill="#c4c4c4"/><rect x="140.6" y="673.3" width="0.9" height="0.9" fill="#c4c4c4"/><rect x="145.9" y="705.5" width="0.9" height="0.9" fill="#c4c4c4"/><rect x="146.0" y="702.8" width="0.9" height="0.9" fill="#c4c4c4"/><rect x="139.2" y="699.4" width="0.9" height="0.9" fill="#c4c4c4"/><rect x="148.0" y="702.1" width="0.9" height="0.9" fill="#c4c4c4"/><rect x="138.5" y="697.7" width="0.9" height="0.9" fill="#c4c4c4"/><rect x="148.3" y="703.3" width="0.9" height="0.9" fill="#c4c4c4"/><rect x="144.2" y="657.5" width="0.9" height="0.9" fill="#c4c4c4"/><rect x="149.8" y="692.6" width="0.9" height="0.9" fill="#c4c4c4"/><rect x="140.3" y="704.6" width="0.9" height="0.9" fill="#c4c4c4"/><rect x="142.6" y="688.4" width="0.9" height="0.9" fill="#c4c4c4"/><rect x="144.1" y="682.6" width="0.9" height="0.9" fill="#c4c4c4"/><rect x="144.1" y="661.0" width="0.9" height="0.9" fill="#c4c4c4"/><rect x="144.6" y="700.9" width="0.9" height="0.9" fill="#c4c4c4"/><rect x="146.4" y="682.9" width="0.9" height="0.9" fill="#c4c4c4"/><rect x="138.5" y="705.5" width="0.9" height="0.9" fill="#c4c4c4"/><rect x="140.1" y="678.6" width="0.9" height="0.9" fill="#c4c4c4"/><rect x="149.1" y="693.3" width="0.9" height="0.9" fill="#c4c4c4"/><rect x="142.8" y="705.0" width="0.9" height="0.9" fill="#c4c4c4"/><rect x="203.8" y="674.5" width="0.9" height="0.9" fill="#c4c4c4"/><rect x="206.7" y="667.0" width="0.9" height="0.9" fill="#c4c4c4"/><rect x="202.0" y="685.4" width="0.9" height="0.9" fill="#c4c4c4"/><rect x="206.8" y="720.3" width="0.9" height="0.9" fill="#c4c4c4"/><rect x="202.3" y="680.0" width="0.9" height="0.9" fill="#c4c4c4"/><rect x="211.0" y="665.5" width="0.9" height="0.9" fill="#c4c4c4"/><rect x="202.2" y="686.4" width="0.9" height="0.9" fill="#c4c4c4"/><rect x="210.8" y="708.7" width="0.9" height="0.9" fill="#c4c4c4"/><rect x="202.6" y="675.7" width="0.9" height="0.9" fill="#c4c4c4"/><rect x="207.7" y="678.1" width="0.9" height="0.9" fill="#c4c4c4"/><rect x="212.5" y="716.6" width="0.9" height="0.9" fill="#c4c4c4"/><rect x="205.9" y="686.6" width="0.9" height="0.9" fill="#c4c4c4"/><rect x="211.6" y="681.5" width="0.9" height="0.9" fill="#c4c4c4"/><rect x="213.4" y="688.8" width="0.9" height="0.9" fill="#c4c4c4"/><rect x="210.6" y="681.4" width="0.9" height="0.9" fill="#c4c4c4"/><rect x="201.5" y="692.4" width="0.9" height="0.9" fill="#c4c4c4"/><rect x="209.8" y="678.8" width="0.9" height="0.9" fill="#c4c4c4"/><rect x="201.1" y="691.1" width="0.9" height="0.9" fill="#c4c4c4"/><rect x="211.4" y="688.9" width="0.9" height="0.9" fill="#c4c4c4"/><rect x="209.7" y="691.4" width="0.9" height="0.9" fill="#c4c4c4"/><rect x="203.1" y="687.3" width="0.9" height="0.9" fill="#c4c4c4"/><rect x="205.1" y="692.2" width="0.9" height="0.9" fill="#c4c4c4"/><rect x="207.6" y="674.6" width="0.9" height="0.9" fill="#c4c4c4"/><rect x="207.5" y="716.7" width="0.9" height="0.9" fill="#c4c4c4"/><rect x="211.9" y="718.4" width="0.9" height="0.9" fill="#c4c4c4"/><rect x="213.6" y="693.4" width="0.9" height="0.9" fill="#c4c4c4"/><rect x="201.1" y="671.6" width="0.9" height="0.9" fill="#c4c4c4"/><rect x="208.9" y="707.1" width="0.9" height="0.9" fill="#c4c4c4"/><rect x="206.3" y="713.3" width="0.9" height="0.9" fill="#c4c4c4"/><rect x="207.0" y="681.9" width="0.9" height="0.9" fill="#c4c4c4"/><rect x="206.3" y="674.1" width="0.9" height="0.9" fill="#c4c4c4"/><rect x="201.7" y="677.9" width="0.9" height="0.9" fill="#c4c4c4"/><rect x="207.7" y="715.8" width="0.9" height="0.9" fill="#c4c4c4"/><rect x="205.8" y="675.4" width="0.9" height="0.9" fill="#c4c4c4"/><rect x="208.1" y="719.9" width="0.9" height="0.9" fill="#c4c4c4"/><rect x="204.1" y="686.0" width="0.9" height="0.9" fill="#c4c4c4"/><rect x="202.3" y="710.4" width="0.9" height="0.9" fill="#c4c4c4"/><rect x="212.0" y="678.1" width="0.9" height="0.9" fill="#c4c4c4"/><rect x="202.8" y="687.6" width="0.9" height="0.9" fill="#c4c4c4"/><rect x="202.0" y="692.9" width="0.9" height="0.9" fill="#c4c4c4"/><rect x="206.5" y="675.4" width="0.9" height="0.9" fill="#c4c4c4"/><rect x="207.7" y="687.5" width="0.9" height="0.9" fill="#c4c4c4"/><rect x="212.2" y="691.3" width="0.9" height="0.9" fill="#c4c4c4"/><rect x="206.6" y="718.0" width="0.9" height="0.9" fill="#c4c4c4"/><rect x="203.6" y="716.3" width="0.9" height="0.9" fill="#c4c4c4"/><rect x="207.9" y="666.2" width="0.9" height="0.9" fill="#c4c4c4"/><rect x="206.8" y="712.8" width="0.9" height="0.9" fill="#c4c4c4"/><rect x="204.9" y="713.0" width="0.9" height="0.9" fill="#c4c4c4"/><rect x="204.3" y="717.5" width="0.9" height="0.9" fill="#c4c4c4"/><rect x="214.8" y="678.2" width="0.9" height="0.9" fill="#c4c4c4"/><rect x="204.3" y="694.0" width="0.9" height="0.9" fill="#c4c4c4"/><rect x="212.9" y="690.4" width="0.9" height="0.9" fill="#c4c4c4"/><rect x="212.8" y="689.5" width="0.9" height="0.9" fill="#c4c4c4"/><rect x="205.2" y="714.6" width="0.9" height="0.9" fill="#c4c4c4"/><rect x="213.2" y="716.1" width="0.9" height="0.9" fill="#c4c4c4"/><rect x="206.2" y="685.0" width="0.9" height="0.9" fill="#c4c4c4"/><rect x="201.2" y="688.2" width="0.9" height="0.9" fill="#c4c4c4"/><rect x="202.5" y="677.8" width="0.9" height="0.9" fill="#c4c4c4"/><rect x="203.3" y="686.9" width="0.9" height="0.9" fill="#c4c4c4"/><rect x="205.0" y="692.6" width="0.9" height="0.9" fill="#c4c4c4"/><rect x="201.1" y="695.8" width="0.9" height="0.9" fill="#c4c4c4"/><rect x="208.1" y="639.1" width="0.9" height="0.9" fill="#c4c4c4"/><rect x="202.3" y="687.1" width="0.9" height="0.9" fill="#c4c4c4"/><rect x="208.1" y="685.2" width="0.9" height="0.9" fill="#c4c4c4"/><rect x="214.0" y="671.2" width="0.9" height="0.9" fill="#c4c4c4"/><rect x="203.3" y="685.0" width="0.9" height="0.9" fill="#c4c4c4"/><rect x="202.8" y="674.7" width="0.9" height="0.9" fill="#c4c4c4"/><rect x="208.9" y="712.8" width="0.9" height="0.9" fill="#c4c4c4"/><rect x="209.6" y="698.8" width="0.9" height="0.9" fill="#c4c4c4"/><rect x="205.3" y="678.0" width="0.9" height="0.9" fill="#c4c4c4"/><rect x="211.7" y="671.9" width="0.9" height="0.9" fill="#c4c4c4"/><rect x="207.6" y="666.0" width="0.9" height="0.9" fill="#c4c4c4"/><rect x="210.0" y="674.0" width="0.9" height="0.9" fill="#c4c4c4"/><rect x="206.0" y="716.2" width="0.9" height="0.9" fill="#c4c4c4"/><rect x="212.5" y="712.8" width="0.9" height="0.9" fill="#c4c4c4"/><rect x="204.7" y="715.1" width="0.9" height="0.9" fill="#c4c4c4"/><rect x="201.6" y="673.6" width="0.9" height="0.9" fill="#c4c4c4"/><rect x="212.0" y="712.6" width="0.9" height="0.9" fill="#c4c4c4"/><rect x="213.3" y="686.6" width="0.9" height="0.9" fill="#c4c4c4"/><rect x="213.4" y="678.5" width="0.9" height="0.9" fill="#c4c4c4"/><rect x="212.2" y="686.0" width="0.9" height="0.9" fill="#c4c4c4"/><rect x="211.8" y="680.7" width="0.9" height="0.9" fill="#c4c4c4"/><rect x="210.9" y="697.4" width="0.9" height="0.9" fill="#c4c4c4"/><rect x="201.1" y="689.4" width="0.9" height="0.9" fill="#c4c4c4"/><rect x="208.2" y="684.6" width="0.9" height="0.9" fill="#c4c4c4"/><rect x="204.2" y="712.7" width="0.9" height="0.9" fill="#c4c4c4"/><rect x="201.1" y="688.3" width="0.9" height="0.9" fill="#c4c4c4"/><rect x="203.9" y="681.3" width="0.9" height="0.9" fill="#c4c4c4"/><rect x="202.9" y="685.4" width="0.9" height="0.9" fill="#c4c4c4"/><rect x="203.1" y="716.8" width="0.9" height="0.9" fill="#c4c4c4"/><rect x="210.1" y="679.2" width="0.9" height="0.9" fill="#c4c4c4"/><rect x="213.2" y="696.4" width="0.9" height="0.9" fill="#c4c4c4"/><rect x="203.8" y="717.2" width="0.9" height="0.9" fill="#c4c4c4"/><rect x="210.0" y="683.8" width="0.9" height="0.9" fill="#c4c4c4"/><rect x="208.8" y="694.2" width="0.9" height="0.9" fill="#c4c4c4"/><rect x="210.0" y="675.3" width="0.9" height="0.9" fill="#c4c4c4"/><rect x="204.7" y="711.1" width="0.9" height="0.9" fill="#c4c4c4"/><rect x="214.8" y="692.3" width="0.9" height="0.9" fill="#c4c4c4"/><rect x="204.0" y="680.0" width="0.9" height="0.9" fill="#c4c4c4"/><rect x="213.8" y="685.3" width="0.9" height="0.9" fill="#c4c4c4"/><rect x="210.8" y="692.3" width="0.9" height="0.9" fill="#c4c4c4"/><rect x="209.1" y="696.7" width="0.9" height="0.9" fill="#c4c4c4"/><rect x="209.9" y="686.4" width="0.9" height="0.9" fill="#c4c4c4"/><rect x="206.5" y="665.3" width="0.9" height="0.9" fill="#c4c4c4"/><rect x="213.1" y="676.8" width="0.9" height="0.9" fill="#c4c4c4"/><rect x="207.8" y="639.9" width="0.9" height="0.9" fill="#c4c4c4"/><rect x="202.6" y="693.0" width="0.9" height="0.9" fill="#c4c4c4"/><rect x="212.1" y="686.7" width="0.9" height="0.9" fill="#c4c4c4"/><rect x="206.7" y="685.8" width="0.9" height="0.9" fill="#c4c4c4"/><rect x="213.4" y="673.1" width="0.9" height="0.9" fill="#c4c4c4"/><rect x="272.6" y="672.1" width="0.9" height="0.9" fill="#c4c4c4"/><rect x="269.7" y="696.7" width="0.9" height="0.9" fill="#c4c4c4"/><rect x="276.0" y="668.3" width="0.9" height="0.9" fill="#c4c4c4"/><rect x="271.6" y="692.7" width="0.9" height="0.9" fill="#c4c4c4"/><rect x="275.0" y="669.6" width="0.9" height="0.9" fill="#c4c4c4"/><rect x="269.7" y="667.4" width="0.9" height="0.9" fill="#c4c4c4"/><rect x="269.7" y="689.3" width="0.9" height="0.9" fill="#c4c4c4"/><rect x="278.1" y="701.6" width="0.9" height="0.9" fill="#c4c4c4"/><rect x="266.6" y="669.8" width="0.9" height="0.9" fill="#c4c4c4"/><rect x="265.6" y="670.5" width="0.9" height="0.9" fill="#c4c4c4"/><rect x="275.3" y="683.3" width="0.9" height="0.9" fill="#c4c4c4"/><rect x="273.9" y="685.2" width="0.9" height="0.9" fill="#c4c4c4"/><rect x="271.1" y="695.7" width="0.9" height="0.9" fill="#c4c4c4"/><rect x="270.9" y="685.3" width="0.9" height="0.9" fill="#c4c4c4"/><rect x="276.8" y="688.7" width="0.9" height="0.9" fill="#c4c4c4"/><rect x="278.4" y="689.2" width="0.9" height="0.9" fill="#c4c4c4"/><rect x="270.6" y="670.7" width="0.9" height="0.9" fill="#c4c4c4"/><rect x="277.0" y="703.6" width="0.9" height="0.9" fill="#c4c4c4"/><rect x="269.0" y="679.3" width="0.9" height="0.9" fill="#c4c4c4"/><rect x="271.0" y="682.0" width="0.9" height="0.9" fill="#c4c4c4"/><rect x="334.5" y="638.2" width="0.9" height="0.9" fill="#c4c4c4"/><rect x="337.9" y="615.1" width="0.9" height="0.9" fill="#c4c4c4"/><rect x="331.4" y="633.9" width="0.9" height="0.9" fill="#c4c4c4"/><rect x="337.5" y="669.9" width="0.9" height="0.9" fill="#c4c4c4"/><rect x="337.3" y="645.2" width="0.9" height="0.9" fill="#c4c4c4"/><rect x="337.0" y="603.4" width="0.9" height="0.9" fill="#c4c4c4"/><rect x="335.3" y="617.5" width="0.9" height="0.9" fill="#c4c4c4"/><rect x="338.5" y="646.9" width="0.9" height="0.9" fill="#c4c4c4"/><rect x="342.6" y="673.6" width="0.9" height="0.9" fill="#c4c4c4"/><rect x="337.0" y="702.5" width="0.9" height="0.9" fill="#c4c4c4"/><rect x="329.8" y="669.7" width="0.9" height="0.9" fill="#c4c4c4"/><rect x="335.0" y="612.9" width="0.9" height="0.9" fill="#c4c4c4"/><rect x="341.2" y="627.2" width="0.9" height="0.9" fill="#c4c4c4"/><rect x="338.3" y="693.2" width="0.9" height="0.9" fill="#c4c4c4"/><rect x="339.0" y="666.0" width="0.9" height="0.9" fill="#c4c4c4"/><rect x="340.0" y="678.5" width="0.9" height="0.9" fill="#c4c4c4"/><rect x="332.9" y="658.1" width="0.9" height="0.9" fill="#c4c4c4"/><rect x="341.7" y="649.7" width="0.9" height="0.9" fill="#c4c4c4"/><rect x="338.9" y="645.2" width="0.9" height="0.9" fill="#c4c4c4"/><rect x="338.1" y="670.1" width="0.9" height="0.9" fill="#c4c4c4"/><rect x="342.2" y="651.5" width="0.9" height="0.9" fill="#c4c4c4"/><rect x="341.7" y="668.5" width="0.9" height="0.9" fill="#c4c4c4"/><rect x="336.9" y="630.1" width="0.9" height="0.9" fill="#c4c4c4"/><rect x="336.2" y="690.0" width="0.9" height="0.9" fill="#c4c4c4"/><rect x="341.2" y="638.4" width="0.9" height="0.9" fill="#c4c4c4"/><rect x="333.4" y="635.7" width="0.9" height="0.9" fill="#c4c4c4"/><rect x="334.2" y="672.9" width="0.9" height="0.9" fill="#c4c4c4"/><rect x="337.4" y="622.8" width="0.9" height="0.9" fill="#c4c4c4"/><rect x="330.2" y="669.9" width="0.9" height="0.9" fill="#c4c4c4"/><rect x="333.8" y="656.7" width="0.9" height="0.9" fill="#c4c4c4"/><rect x="342.3" y="673.4" width="0.9" height="0.9" fill="#c4c4c4"/><rect x="338.4" y="666.5" width="0.9" height="0.9" fill="#c4c4c4"/><rect x="339.1" y="679.1" width="0.9" height="0.9" fill="#c4c4c4"/><rect x="331.0" y="643.7" width="0.9" height="0.9" fill="#c4c4c4"/><rect x="337.1" y="602.7" width="0.9" height="0.9" fill="#c4c4c4"/><rect x="335.6" y="638.4" width="0.9" height="0.9" fill="#c4c4c4"/><rect x="343.3" y="663.6" width="0.9" height="0.9" fill="#c4c4c4"/><rect x="331.0" y="646.3" width="0.9" height="0.9" fill="#c4c4c4"/><rect x="331.7" y="671.4" width="0.9" height="0.9" fill="#c4c4c4"/><rect x="343.1" y="677.2" width="0.9" height="0.9" fill="#c4c4c4"/><rect x="336.8" y="595.0" width="0.9" height="0.9" fill="#c4c4c4"/><rect x="337.2" y="603.6" width="0.9" height="0.9" fill="#c4c4c4"/><rect x="337.9" y="684.0" width="0.9" height="0.9" fill="#c4c4c4"/><rect x="342.1" y="681.0" width="0.9" height="0.9" fill="#c4c4c4"/><rect x="330.9" y="682.1" width="0.9" height="0.9" fill="#c4c4c4"/><rect x="330.7" y="672.3" width="0.9" height="0.9" fill="#c4c4c4"/><rect x="334.7" y="647.9" width="0.9" height="0.9" fill="#c4c4c4"/><rect x="339.1" y="661.1" width="0.9" height="0.9" fill="#c4c4c4"/><rect x="335.0" y="669.2" width="0.9" height="0.9" fill="#c4c4c4"/><rect x="340.1" y="619.2" width="0.9" height="0.9" fill="#c4c4c4"/><rect x="335.6" y="664.9" width="0.9" height="0.9" fill="#c4c4c4"/><rect x="342.1" y="677.3" width="0.9" height="0.9" fill="#c4c4c4"/><rect x="341.0" y="638.5" width="0.9" height="0.9" fill="#c4c4c4"/><rect x="337.0" y="707.4" width="0.9" height="0.9" fill="#c4c4c4"/><rect x="341.5" y="660.6" width="0.9" height="0.9" fill="#c4c4c4"/><rect x="332.5" y="676.3" width="0.9" height="0.9" fill="#c4c4c4"/><rect x="337.0" y="690.3" width="0.9" height="0.9" fill="#c4c4c4"/><rect x="337.9" y="653.2" width="0.9" height="0.9" fill="#c4c4c4"/><rect x="331.7" y="635.5" width="0.9" height="0.9" fill="#c4c4c4"/><rect x="338.3" y="631.3" width="0.9" height="0.9" fill="#c4c4c4"/><rect x="337.0" y="692.5" width="0.9" height="0.9" fill="#c4c4c4"/><rect x="333.3" y="647.9" width="0.9" height="0.9" fill="#c4c4c4"/><rect x="335.2" y="613.5" width="0.9" height="0.9" fill="#c4c4c4"/><rect x="335.8" y="602.6" width="0.9" height="0.9" fill="#c4c4c4"/><rect x="336.0" y="658.5" width="0.9" height="0.9" fill="#c4c4c4"/><rect x="343.0" y="634.7" width="0.9" height="0.9" fill="#c4c4c4"/><rect x="335.9" y="675.1" width="0.9" height="0.9" fill="#c4c4c4"/><rect x="335.4" y="688.2" width="0.9" height="0.9" fill="#c4c4c4"/><rect x="336.5" y="613.9" width="0.9" height="0.9" fill="#c4c4c4"/><rect x="337.6" y="604.8" width="0.9" height="0.9" fill="#c4c4c4"/><rect x="341.1" y="642.9" width="0.9" height="0.9" fill="#c4c4c4"/><rect x="331.6" y="646.6" width="0.9" height="0.9" fill="#c4c4c4"/><rect x="337.2" y="608.7" width="0.9" height="0.9" fill="#c4c4c4"/><rect x="341.8" y="657.9" width="0.9" height="0.9" fill="#c4c4c4"/><rect x="336.3" y="674.9" width="0.9" height="0.9" fill="#c4c4c4"/><rect x="334.5" y="618.3" width="0.9" height="0.9" fill="#c4c4c4"/><rect x="341.7" y="683.5" width="0.9" height="0.9" fill="#c4c4c4"/><rect x="331.2" y="626.4" width="0.9" height="0.9" fill="#c4c4c4"/><rect x="332.1" y="660.5" width="0.9" height="0.9" fill="#c4c4c4"/><rect x="335.6" y="605.0" width="0.9" height="0.9" fill="#c4c4c4"/><rect x="333.4" y="666.0" width="0.9" height="0.9" fill="#c4c4c4"/><rect x="330.5" y="662.2" width="0.9" height="0.9" fill="#c4c4c4"/><rect x="338.8" y="684.4" width="0.9" height="0.9" fill="#c4c4c4"/><rect x="338.5" y="615.3" width="0.9" height="0.9" fill="#c4c4c4"/><rect x="335.0" y="630.3" width="0.9" height="0.9" fill="#c4c4c4"/><rect x="336.9" y="664.0" width="0.9" height="0.9" fill="#c4c4c4"/><rect x="331.3" y="641.9" width="0.9" height="0.9" fill="#c4c4c4"/><rect x="339.7" y="681.2" width="0.9" height="0.9" fill="#c4c4c4"/><rect x="337.1" y="651.9" width="0.9" height="0.9" fill="#c4c4c4"/><rect x="335.5" y="697.0" width="0.9" height="0.9" fill="#c4c4c4"/><rect x="329.8" y="679.4" width="0.9" height="0.9" fill="#c4c4c4"/><rect x="336.9" y="664.7" width="0.9" height="0.9" fill="#c4c4c4"/><rect x="341.6" y="680.0" width="0.9" height="0.9" fill="#c4c4c4"/><rect x="332.2" y="682.1" width="0.9" height="0.9" fill="#c4c4c4"/><rect x="333.5" y="649.0" width="0.9" height="0.9" fill="#c4c4c4"/><rect x="331.9" y="660.7" width="0.9" height="0.9" fill="#c4c4c4"/><rect x="341.3" y="633.5" width="0.9" height="0.9" fill="#c4c4c4"/><rect x="342.8" y="653.7" width="0.9" height="0.9" fill="#c4c4c4"/><rect x="337.0" y="669.6" width="0.9" height="0.9" fill="#c4c4c4"/><rect x="331.6" y="650.7" width="0.9" height="0.9" fill="#c4c4c4"/><rect x="336.8" y="707.0" width="0.9" height="0.9" fill="#c4c4c4"/><rect x="337.6" y="618.5" width="0.9" height="0.9" fill="#c4c4c4"/><rect x="331.3" y="655.0" width="0.9" height="0.9" fill="#c4c4c4"/><rect x="333.0" y="636.1" width="0.9" height="0.9" fill="#c4c4c4"/><rect x="332.4" y="660.4" width="0.9" height="0.9" fill="#c4c4c4"/><rect x="337.2" y="681.1" width="0.9" height="0.9" fill="#c4c4c4"/><rect x="333.9" y="666.7" width="0.9" height="0.9" fill="#c4c4c4"/><rect x="337.8" y="651.8" width="0.9" height="0.9" fill="#c4c4c4"/><rect x="333.6" y="658.3" width="0.9" height="0.9" fill="#c4c4c4"/><rect x="334.2" y="690.3" width="0.9" height="0.9" fill="#c4c4c4"/><rect x="331.1" y="641.0" width="0.9" height="0.9" fill="#c4c4c4"/><rect x="335.1" y="685.3" width="0.9" height="0.9" fill="#c4c4c4"/><rect x="341.1" y="667.2" width="0.9" height="0.9" fill="#c4c4c4"/><rect x="340.0" y="652.6" width="0.9" height="0.9" fill="#c4c4c4"/><rect x="336.9" y="704.9" width="0.9" height="0.9" fill="#c4c4c4"/><rect x="343.1" y="662.7" width="0.9" height="0.9" fill="#c4c4c4"/><rect x="340.6" y="660.6" width="0.9" height="0.9" fill="#c4c4c4"/><rect x="336.0" y="632.1" width="0.9" height="0.9" fill="#c4c4c4"/><rect x="335.4" y="683.0" width="0.9" height="0.9" fill="#c4c4c4"/><rect x="334.1" y="658.2" width="0.9" height="0.9" fill="#c4c4c4"/>
<line x1="202.4" y1="715.3" x2="214.2" y2="715.3" stroke="#aaa" stroke-width="0.6" stroke-dasharray="1 0.6"/>
<line x1="138.4" y1="705.2" x2="149.6" y2="705.2" stroke="#aaa" stroke-width="0.6" stroke-dasharray="1 0.6"/>
<line x1="144.2" y1="672.0" x2="144.2" y2="686.0" stroke="#aaa" stroke-width="0.5"/><line x1="144.2" y1="705.2" x2="144.2" y2="705.2" stroke="#aaa" stroke-width="0.5"/><rect x="140.6" y="686.0" width="7.1" height="19.2" fill="none" stroke="#999" stroke-width="0.5"/><line x1="140.6" y1="694.4" x2="147.7" y2="694.4" stroke="#333" stroke-width="1.1"/><line x1="208.5" y1="660.0" x2="208.5" y2="679.4" stroke="#aaa" stroke-width="0.5"/><line x1="208.5" y1="691.3" x2="208.5" y2="695.5" stroke="#aaa" stroke-width="0.5"/><rect x="205.1" y="679.4" width="6.6" height="11.9" fill="none" stroke="#999" stroke-width="0.5"/><line x1="205.1" y1="686.0" x2="211.7" y2="686.0" stroke="#333" stroke-width="1.1"/><line x1="272.6" y1="672.6" x2="272.6" y2="675.2" stroke="#aaa" stroke-width="0.5"/><line x1="272.6" y1="689.1" x2="272.6" y2="704.2" stroke="#aaa" stroke-width="0.5"/><rect x="269.6" y="675.2" width="6.7" height="13.9" fill="none" stroke="#999" stroke-width="0.5"/><line x1="269.6" y1="681.2" x2="276.3" y2="681.2" stroke="#333" stroke-width="1.1"/><line x1="337.05" y1="617.0" x2="337.05" y2="641.4" stroke="#aaa" stroke-width="0.5"/><line x1="337.05" y1="670.0" x2="337.05" y2="690.0" stroke="#aaa" stroke-width="0.5"/><rect x="333.4" y="641.4" width="7.3" height="28.6" fill="none" stroke="#999" stroke-width="0.5"/><line x1="333.4" y1="659.8" x2="340.7" y2="659.8" stroke="#333" stroke-width="1.1"/>
<rect x="105.5" y="569.5" width="270.0" height="161.8" fill="none" stroke="#9e9e9e" stroke-width="0.9"/>
<line x1="103.0" y1="705.0" x2="105.5" y2="705.0" stroke="#9e9e9e" stroke-width="0.8"/><text x="102.1" y="708.2" text-anchor="end" font-size="11" fill="#111">0</text><line x1="103.0" y1="675.1" x2="105.5" y2="675.1" stroke="#9e9e9e" stroke-width="0.8"/><text x="102.1" y="678.3" text-anchor="end" font-size="11" fill="#111">5</text><line x1="103.0" y1="645.1" x2="105.5" y2="645.1" stroke="#9e9e9e" stroke-width="0.8"/><text x="102.1" y="648.4" text-anchor="end" font-size="11" fill="#111">10</text><line x1="103.0" y1="615.2" x2="105.5" y2="615.2" stroke="#9e9e9e" stroke-width="0.8"/><text x="102.1" y="618.4" text-anchor="end" font-size="11" fill="#111">15</text><line x1="103.0" y1="585.3" x2="105.5" y2="585.3" stroke="#9e9e9e" stroke-width="0.8"/><text x="102.1" y="588.5" text-anchor="end" font-size="11" fill="#111">20</text>
<text x="112.6" y="583.6" font-size="11" fill="#111">CA19-9</text>
<text transform="translate(78.3,652) rotate(-90)" text-anchor="middle" font-size="11" fill="#111">Log<tspan font-size="7.4" dy="2.6">2</tspan><tspan dy="-2.6"> kU/L</tspan></text>
<line x1="448.9" y1="729.1" x2="719.4" y2="729.1" stroke="#f2f2f2" stroke-width="0.5"/><line x1="448.9" y1="679.3" x2="719.4" y2="679.3" stroke="#f2f2f2" stroke-width="0.5"/><line x1="448.9" y1="629.6" x2="719.4" y2="629.6" stroke="#f2f2f2" stroke-width="0.5"/><line x1="448.9" y1="579.8" x2="719.4" y2="579.8" stroke="#f2f2f2" stroke-width="0.5"/><line x1="448.9" y1="704.2" x2="719.4" y2="704.2" stroke="#ebebeb" stroke-width="0.8"/><line x1="448.9" y1="654.5" x2="719.4" y2="654.5" stroke="#ebebeb" stroke-width="0.8"/><line x1="448.9" y1="604.7" x2="719.4" y2="604.7" stroke="#ebebeb" stroke-width="0.8"/><line x1="487.6" y1="567.5" x2="487.6" y2="731.3" stroke="#ebebeb" stroke-width="0.8"/><line x1="552.0" y1="567.5" x2="552.0" y2="731.3" stroke="#ebebeb" stroke-width="0.8"/><line x1="616.4" y1="567.5" x2="616.4" y2="731.3" stroke="#ebebeb" stroke-width="0.8"/><line x1="680.9" y1="567.5" x2="680.9" y2="731.3" stroke="#ebebeb" stroke-width="0.8"/>
<line x1="487.5" y1="656.1" x2="487.5" y2="660.8" stroke="#8a8a8a" stroke-width="1.1"/><path d="M487.50,660.30 C487.62,660.98 487.98,663.03 488.20,664.40 C488.42,665.77 488.60,667.13 488.80,668.50 C489.00,669.87 489.18,671.22 489.40,672.60 C489.62,673.98 489.80,675.55 490.10,676.80 C490.40,678.05 490.65,679.13 491.20,680.10 C491.75,681.07 492.27,681.78 493.40,682.60 C494.53,683.42 496.13,684.18 498.00,685.00 C499.87,685.82 502.82,686.67 504.60,687.50 C506.38,688.33 507.67,689.17 508.70,690.00 C509.73,690.83 509.97,691.67 510.80,692.50 C511.63,693.33 512.70,694.12 513.70,695.00 C514.70,695.88 516.67,696.98 516.80,697.80 C516.93,698.62 515.85,699.27 514.50,699.90 C513.15,700.53 510.90,700.92 508.70,701.60 C506.50,702.28 503.63,703.18 501.30,704.00 C498.97,704.82 496.48,705.67 494.70,706.50 C492.92,707.33 491.63,708.17 490.60,709.00 C489.57,709.83 489.02,710.40 488.50,711.50 C487.98,712.60 487.67,714.92 487.50,715.60 C487.33,714.92 487.02,712.60 486.50,711.50 C485.98,710.40 485.43,709.83 484.40,709.00 C483.37,708.17 482.08,707.33 480.30,706.50 C478.52,705.67 476.03,704.82 473.70,704.00 C471.37,703.18 468.50,702.28 466.30,701.60 C464.10,700.92 461.85,700.53 460.50,699.90 C459.15,699.27 458.07,698.62 458.20,697.80 C458.33,696.98 460.30,695.88 461.30,695.00 C462.30,694.12 463.37,693.33 464.20,692.50 C465.03,691.67 465.27,690.83 466.30,690.00 C467.33,689.17 468.62,688.33 470.40,687.50 C472.18,686.67 475.13,685.82 477.00,685.00 C478.87,684.18 480.47,683.42 481.60,682.60 C482.73,681.78 483.25,681.07 483.80,680.10 C484.35,679.13 484.60,678.05 484.90,676.80 C485.20,675.55 485.38,673.98 485.60,672.60 C485.82,671.22 486.00,669.87 486.20,668.50 C486.40,667.13 486.58,665.77 486.80,664.40 C487.02,663.03 487.38,660.98 487.50,660.30 Z" fill="none" stroke="#5a5a5a" stroke-width="0.7"/><line x1="552.0" y1="623.7" x2="552.0" y2="655.5" stroke="#8a8a8a" stroke-width="1.1"/><line x1="552.0" y1="713.1" x2="552.0" y2="719.4" stroke="#8a8a8a" stroke-width="1.1"/><path d="M552.00,655.00 C552.13,655.68 552.50,657.72 552.80,659.10 C553.10,660.48 553.50,661.92 553.80,663.30 C554.10,664.68 554.32,666.03 554.60,667.40 C554.88,668.77 555.23,670.27 555.50,671.50 C555.77,672.73 555.78,673.83 556.20,674.80 C556.62,675.77 557.15,676.47 558.00,677.30 C558.85,678.13 560.20,678.83 561.30,679.80 C562.40,680.77 563.50,682.00 564.60,683.10 C565.70,684.20 566.80,685.30 567.90,686.40 C569.00,687.50 570.30,688.60 571.20,689.70 C572.10,690.80 572.88,692.18 573.30,693.00 C573.72,693.82 573.83,693.92 573.70,694.60 C573.57,695.28 573.32,696.13 572.50,697.10 C571.68,698.07 570.38,699.15 568.80,700.40 C567.22,701.65 564.93,703.22 563.00,704.60 C561.07,705.98 558.78,707.47 557.20,708.70 C555.62,709.93 554.37,711.18 553.50,712.00 C552.63,712.82 552.25,713.33 552.00,713.60 C551.75,713.33 551.37,712.82 550.50,712.00 C549.63,711.18 548.38,709.93 546.80,708.70 C545.22,707.47 542.93,705.98 541.00,704.60 C539.07,703.22 536.78,701.65 535.20,700.40 C533.62,699.15 532.32,698.07 531.50,697.10 C530.68,696.13 530.43,695.28 530.30,694.60 C530.17,693.92 530.28,693.82 530.70,693.00 C531.12,692.18 531.90,690.80 532.80,689.70 C533.70,688.60 535.00,687.50 536.10,686.40 C537.20,685.30 538.30,684.20 539.40,683.10 C540.50,682.00 541.60,680.77 542.70,679.80 C543.80,678.83 545.15,678.13 546.00,677.30 C546.85,676.47 547.38,675.77 547.80,674.80 C548.22,673.83 548.23,672.73 548.50,671.50 C548.77,670.27 549.12,668.77 549.40,667.40 C549.68,666.03 549.90,664.68 550.20,663.30 C550.50,661.92 550.90,660.48 551.20,659.10 C551.50,657.72 551.87,655.68 552.00,655.00 Z" fill="none" stroke="#5a5a5a" stroke-width="0.7"/><line x1="616.4" y1="714.0" x2="616.4" y2="718.6" stroke="#8a8a8a" stroke-width="1.1"/><path d="M616.40,659.50 C616.52,660.13 616.75,662.12 617.10,663.30 C617.45,664.48 617.93,665.50 618.50,666.60 C619.07,667.70 619.62,668.80 620.50,669.90 C621.38,671.00 622.55,672.10 623.80,673.20 C625.05,674.30 626.68,675.40 628.00,676.50 C629.32,677.60 630.53,678.70 631.70,679.80 C632.87,680.90 633.97,682.00 635.00,683.10 C636.03,684.20 637.12,685.17 637.90,686.40 C638.68,687.63 639.70,689.27 639.70,690.50 C639.70,691.73 638.90,692.83 637.90,693.80 C636.90,694.77 635.35,695.47 633.70,696.30 C632.05,697.13 629.72,697.83 628.00,698.80 C626.28,699.77 624.78,700.87 623.40,702.10 C622.02,703.33 620.67,704.83 619.70,706.20 C618.73,707.57 618.15,708.92 617.60,710.30 C617.05,711.68 616.60,713.80 616.40,714.50 C616.20,713.80 615.75,711.68 615.20,710.30 C614.65,708.92 614.07,707.57 613.10,706.20 C612.13,704.83 610.78,703.33 609.40,702.10 C608.02,700.87 606.52,699.77 604.80,698.80 C603.08,697.83 600.75,697.13 599.10,696.30 C597.45,695.47 595.90,694.77 594.90,693.80 C593.90,692.83 593.10,691.73 593.10,690.50 C593.10,689.27 594.12,687.63 594.90,686.40 C595.68,685.17 596.77,684.20 597.80,683.10 C598.83,682.00 599.93,680.90 601.10,679.80 C602.27,678.70 603.48,677.60 604.80,676.50 C606.12,675.40 607.75,674.30 609.00,673.20 C610.25,672.10 611.42,671.00 612.30,669.90 C613.18,668.80 613.73,667.70 614.30,666.60 C614.87,665.50 615.35,664.48 615.70,663.30 C616.05,662.12 616.28,660.13 616.40,659.50 Z" fill="none" stroke="#5a5a5a" stroke-width="0.7"/><line x1="681.0" y1="574.9" x2="681.0" y2="630.5" stroke="#8a8a8a" stroke-width="1.1"/><line x1="681.0" y1="704.0" x2="681.0" y2="724.2" stroke="#8a8a8a" stroke-width="1.1"/><path d="M681.00,630.00 C681.18,631.47 681.68,636.60 682.10,638.80 C682.52,641.00 683.05,641.75 683.50,643.20 C683.95,644.65 684.37,646.05 684.80,647.50 C685.23,648.95 685.45,650.43 686.10,651.90 C686.75,653.37 687.75,654.83 688.70,656.30 C689.65,657.77 690.92,659.23 691.80,660.70 C692.68,662.17 693.48,663.63 694.00,665.10 C694.52,666.57 694.75,668.05 694.90,669.50 C695.05,670.95 694.98,672.35 694.90,673.80 C694.82,675.25 694.77,676.73 694.40,678.20 C694.03,679.67 693.50,681.13 692.70,682.60 C691.90,684.07 690.70,685.53 689.60,687.00 C688.50,688.47 687.12,689.93 686.10,691.40 C685.08,692.87 684.17,694.33 683.50,695.80 C682.83,697.27 682.52,698.75 682.10,700.20 C681.68,701.65 681.18,703.78 681.00,704.50 C680.82,703.78 680.32,701.65 679.90,700.20 C679.48,698.75 679.17,697.27 678.50,695.80 C677.83,694.33 676.92,692.87 675.90,691.40 C674.88,689.93 673.50,688.47 672.40,687.00 C671.30,685.53 670.10,684.07 669.30,682.60 C668.50,681.13 667.97,679.67 667.60,678.20 C667.23,676.73 667.18,675.25 667.10,673.80 C667.02,672.35 666.95,670.95 667.10,669.50 C667.25,668.05 667.48,666.57 668.00,665.10 C668.52,663.63 669.32,662.17 670.20,660.70 C671.08,659.23 672.35,657.77 673.30,656.30 C674.25,654.83 675.25,653.37 675.90,651.90 C676.55,650.43 676.77,648.95 677.20,647.50 C677.63,646.05 678.05,644.65 678.50,643.20 C678.95,641.75 679.48,641.00 679.90,638.80 C680.32,636.60 680.82,631.47 681.00,630.00 Z" fill="none" stroke="#5a5a5a" stroke-width="0.7"/>
<rect x="492.9" y="690.3" width="0.9" height="0.9" fill="#c4c4c4"/><rect x="485.5" y="709.8" width="0.9" height="0.9" fill="#c4c4c4"/><rect x="492.9" y="689.3" width="0.9" height="0.9" fill="#c4c4c4"/><rect x="494.0" y="701.7" width="0.9" height="0.9" fill="#c4c4c4"/><rect x="489.6" y="686.4" width="0.9" height="0.9" fill="#c4c4c4"/><rect x="493.3" y="691.0" width="0.9" height="0.9" fill="#c4c4c4"/><rect x="481.4" y="695.9" width="0.9" height="0.9" fill="#c4c4c4"/><rect x="492.4" y="689.0" width="0.9" height="0.9" fill="#c4c4c4"/><rect x="492.6" y="686.1" width="0.9" height="0.9" fill="#c4c4c4"/><rect x="493.9" y="696.7" width="0.9" height="0.9" fill="#c4c4c4"/><rect x="485.0" y="693.1" width="0.9" height="0.9" fill="#c4c4c4"/><rect x="489.7" y="702.5" width="0.9" height="0.9" fill="#c4c4c4"/><rect x="487.0" y="695.4" width="0.9" height="0.9" fill="#c4c4c4"/><rect x="489.1" y="688.6" width="0.9" height="0.9" fill="#c4c4c4"/><rect x="481.8" y="689.8" width="0.9" height="0.9" fill="#c4c4c4"/><rect x="480.2" y="703.6" width="0.9" height="0.9" fill="#c4c4c4"/><rect x="490.1" y="701.5" width="0.9" height="0.9" fill="#c4c4c4"/><rect x="489.3" y="678.6" width="0.9" height="0.9" fill="#c4c4c4"/><rect x="488.3" y="670.5" width="0.9" height="0.9" fill="#c4c4c4"/><rect x="482.5" y="702.8" width="0.9" height="0.9" fill="#c4c4c4"/><rect x="487.5" y="689.1" width="0.9" height="0.9" fill="#c4c4c4"/><rect x="483.5" y="704.8" width="0.9" height="0.9" fill="#c4c4c4"/><rect x="487.5" y="669.8" width="0.9" height="0.9" fill="#c4c4c4"/><rect x="483.8" y="697.6" width="0.9" height="0.9" fill="#c4c4c4"/><rect x="486.3" y="705.3" width="0.9" height="0.9" fill="#c4c4c4"/><rect x="493.5" y="698.6" width="0.9" height="0.9" fill="#c4c4c4"/><rect x="486.4" y="685.7" width="0.9" height="0.9" fill="#c4c4c4"/><rect x="483.5" y="690.6" width="0.9" height="0.9" fill="#c4c4c4"/><rect x="492.3" y="691.8" width="0.9" height="0.9" fill="#c4c4c4"/><rect x="490.9" y="687.9" width="0.9" height="0.9" fill="#c4c4c4"/><rect x="485.5" y="689.4" width="0.9" height="0.9" fill="#c4c4c4"/><rect x="487.9" y="695.1" width="0.9" height="0.9" fill="#c4c4c4"/><rect x="486.4" y="673.3" width="0.9" height="0.9" fill="#c4c4c4"/><rect x="485.7" y="698.3" width="0.9" height="0.9" fill="#c4c4c4"/><rect x="485.8" y="695.1" width="0.9" height="0.9" fill="#c4c4c4"/><rect x="483.5" y="694.9" width="0.9" height="0.9" fill="#c4c4c4"/><rect x="481.7" y="693.1" width="0.9" height="0.9" fill="#c4c4c4"/><rect x="480.6" y="698.0" width="0.9" height="0.9" fill="#c4c4c4"/><rect x="491.8" y="693.6" width="0.9" height="0.9" fill="#c4c4c4"/><rect x="483.6" y="689.6" width="0.9" height="0.9" fill="#c4c4c4"/><rect x="488.5" y="676.4" width="0.9" height="0.9" fill="#c4c4c4"/><rect x="480.7" y="701.9" width="0.9" height="0.9" fill="#c4c4c4"/><rect x="489.8" y="700.2" width="0.9" height="0.9" fill="#c4c4c4"/><rect x="481.3" y="705.0" width="0.9" height="0.9" fill="#c4c4c4"/><rect x="488.8" y="699.6" width="0.9" height="0.9" fill="#c4c4c4"/><rect x="489.3" y="682.6" width="0.9" height="0.9" fill="#c4c4c4"/><rect x="489.9" y="701.0" width="0.9" height="0.9" fill="#c4c4c4"/><rect x="487.7" y="703.6" width="0.9" height="0.9" fill="#c4c4c4"/><rect x="480.9" y="688.0" width="0.9" height="0.9" fill="#c4c4c4"/><rect x="483.4" y="695.5" width="0.9" height="0.9" fill="#c4c4c4"/><rect x="555.3" y="680.5" width="0.9" height="0.9" fill="#c4c4c4"/><rect x="548.6" y="702.8" width="0.9" height="0.9" fill="#c4c4c4"/><rect x="555.0" y="675.2" width="0.9" height="0.9" fill="#c4c4c4"/><rect x="557.6" y="684.9" width="0.9" height="0.9" fill="#c4c4c4"/><rect x="548.0" y="685.7" width="0.9" height="0.9" fill="#c4c4c4"/><rect x="548.7" y="697.4" width="0.9" height="0.9" fill="#c4c4c4"/><rect x="549.7" y="702.2" width="0.9" height="0.9" fill="#c4c4c4"/><rect x="545.1" y="702.8" width="0.9" height="0.9" fill="#c4c4c4"/><rect x="554.2" y="678.9" width="0.9" height="0.9" fill="#c4c4c4"/><rect x="550.4" y="686.6" width="0.9" height="0.9" fill="#c4c4c4"/><rect x="554.0" y="700.9" width="0.9" height="0.9" fill="#c4c4c4"/><rect x="552.5" y="681.5" width="0.9" height="0.9" fill="#c4c4c4"/><rect x="549.4" y="685.2" width="0.9" height="0.9" fill="#c4c4c4"/><rect x="548.6" y="708.0" width="0.9" height="0.9" fill="#c4c4c4"/><rect x="545.7" y="688.2" width="0.9" height="0.9" fill="#c4c4c4"/><rect x="552.7" y="686.5" width="0.9" height="0.9" fill="#c4c4c4"/><rect x="550.3" y="679.6" width="0.9" height="0.9" fill="#c4c4c4"/><rect x="546.2" y="691.6" width="0.9" height="0.9" fill="#c4c4c4"/><rect x="555.4" y="697.4" width="0.9" height="0.9" fill="#c4c4c4"/><rect x="551.7" y="658.9" width="0.9" height="0.9" fill="#c4c4c4"/><rect x="557.0" y="691.0" width="0.9" height="0.9" fill="#c4c4c4"/><rect x="554.7" y="706.6" width="0.9" height="0.9" fill="#c4c4c4"/><rect x="546.3" y="688.4" width="0.9" height="0.9" fill="#c4c4c4"/><rect x="557.5" y="700.1" width="0.9" height="0.9" fill="#c4c4c4"/><rect x="547.3" y="687.9" width="0.9" height="0.9" fill="#c4c4c4"/><rect x="544.8" y="678.9" width="0.9" height="0.9" fill="#c4c4c4"/><rect x="557.8" y="689.2" width="0.9" height="0.9" fill="#c4c4c4"/><rect x="549.2" y="681.7" width="0.9" height="0.9" fill="#c4c4c4"/><rect x="546.9" y="679.6" width="0.9" height="0.9" fill="#c4c4c4"/><rect x="551.6" y="657.1" width="0.9" height="0.9" fill="#c4c4c4"/><rect x="548.4" y="687.5" width="0.9" height="0.9" fill="#c4c4c4"/><rect x="555.4" y="697.0" width="0.9" height="0.9" fill="#c4c4c4"/><rect x="549.6" y="683.8" width="0.9" height="0.9" fill="#c4c4c4"/><rect x="555.2" y="688.5" width="0.9" height="0.9" fill="#c4c4c4"/><rect x="553.4" y="694.0" width="0.9" height="0.9" fill="#c4c4c4"/><rect x="551.1" y="662.1" width="0.9" height="0.9" fill="#c4c4c4"/><rect x="547.6" y="677.7" width="0.9" height="0.9" fill="#c4c4c4"/><rect x="547.1" y="679.1" width="0.9" height="0.9" fill="#c4c4c4"/><rect x="550.1" y="690.7" width="0.9" height="0.9" fill="#c4c4c4"/><rect x="550.2" y="695.0" width="0.9" height="0.9" fill="#c4c4c4"/><rect x="545.4" y="688.2" width="0.9" height="0.9" fill="#c4c4c4"/><rect x="551.9" y="662.9" width="0.9" height="0.9" fill="#c4c4c4"/><rect x="551.0" y="680.5" width="0.9" height="0.9" fill="#c4c4c4"/><rect x="545.9" y="692.5" width="0.9" height="0.9" fill="#c4c4c4"/><rect x="555.9" y="696.7" width="0.9" height="0.9" fill="#c4c4c4"/><rect x="549.2" y="686.2" width="0.9" height="0.9" fill="#c4c4c4"/><rect x="554.5" y="694.2" width="0.9" height="0.9" fill="#c4c4c4"/><rect x="548.9" y="696.3" width="0.9" height="0.9" fill="#c4c4c4"/><rect x="558.4" y="697.3" width="0.9" height="0.9" fill="#c4c4c4"/><rect x="553.0" y="709.7" width="0.9" height="0.9" fill="#c4c4c4"/><rect x="548.7" y="695.9" width="0.9" height="0.9" fill="#c4c4c4"/><rect x="556.0" y="677.8" width="0.9" height="0.9" fill="#c4c4c4"/><rect x="554.9" y="706.4" width="0.9" height="0.9" fill="#c4c4c4"/><rect x="549.2" y="702.0" width="0.9" height="0.9" fill="#c4c4c4"/><rect x="552.7" y="680.4" width="0.9" height="0.9" fill="#c4c4c4"/><rect x="555.4" y="707.7" width="0.9" height="0.9" fill="#c4c4c4"/><rect x="556.6" y="705.9" width="0.9" height="0.9" fill="#c4c4c4"/><rect x="546.9" y="693.7" width="0.9" height="0.9" fill="#c4c4c4"/><rect x="549.3" y="688.6" width="0.9" height="0.9" fill="#c4c4c4"/><rect x="545.1" y="699.1" width="0.9" height="0.9" fill="#c4c4c4"/><rect x="550.7" y="671.2" width="0.9" height="0.9" fill="#c4c4c4"/><rect x="547.0" y="693.2" width="0.9" height="0.9" fill="#c4c4c4"/><rect x="551.8" y="658.0" width="0.9" height="0.9" fill="#c4c4c4"/><rect x="552.2" y="685.8" width="0.9" height="0.9" fill="#c4c4c4"/><rect x="552.5" y="710.2" width="0.9" height="0.9" fill="#c4c4c4"/><rect x="551.6" y="716.2" width="0.9" height="0.9" fill="#c4c4c4"/><rect x="554.5" y="694.4" width="0.9" height="0.9" fill="#c4c4c4"/><rect x="557.3" y="681.9" width="0.9" height="0.9" fill="#c4c4c4"/><rect x="547.0" y="701.1" width="0.9" height="0.9" fill="#c4c4c4"/><rect x="553.5" y="701.9" width="0.9" height="0.9" fill="#c4c4c4"/><rect x="549.9" y="706.3" width="0.9" height="0.9" fill="#c4c4c4"/><rect x="546.6" y="699.6" width="0.9" height="0.9" fill="#c4c4c4"/><rect x="551.8" y="688.3" width="0.9" height="0.9" fill="#c4c4c4"/><rect x="547.5" y="677.9" width="0.9" height="0.9" fill="#c4c4c4"/><rect x="549.1" y="692.0" width="0.9" height="0.9" fill="#c4c4c4"/><rect x="550.5" y="705.4" width="0.9" height="0.9" fill="#c4c4c4"/><rect x="549.8" y="699.1" width="0.9" height="0.9" fill="#c4c4c4"/><rect x="553.9" y="691.4" width="0.9" height="0.9" fill="#c4c4c4"/><rect x="551.9" y="695.6" width="0.9" height="0.9" fill="#c4c4c4"/><rect x="552.8" y="695.7" width="0.9" height="0.9" fill="#c4c4c4"/><rect x="551.2" y="703.6" width="0.9" height="0.9" fill="#c4c4c4"/><rect x="545.1" y="694.1" width="0.9" height="0.9" fill="#c4c4c4"/><rect x="555.3" y="688.3" width="0.9" height="0.9" fill="#c4c4c4"/><rect x="547.6" y="696.9" width="0.9" height="0.9" fill="#c4c4c4"/><rect x="545.3" y="695.3" width="0.9" height="0.9" fill="#c4c4c4"/><rect x="551.3" y="688.4" width="0.9" height="0.9" fill="#c4c4c4"/><rect x="549.5" y="706.7" width="0.9" height="0.9" fill="#c4c4c4"/><rect x="554.8" y="672.8" width="0.9" height="0.9" fill="#c4c4c4"/><rect x="547.4" y="705.2" width="0.9" height="0.9" fill="#c4c4c4"/><rect x="549.7" y="676.5" width="0.9" height="0.9" fill="#c4c4c4"/><rect x="550.9" y="700.0" width="0.9" height="0.9" fill="#c4c4c4"/><rect x="550.8" y="707.3" width="0.9" height="0.9" fill="#c4c4c4"/><rect x="556.6" y="684.4" width="0.9" height="0.9" fill="#c4c4c4"/><rect x="547.5" y="687.8" width="0.9" height="0.9" fill="#c4c4c4"/><rect x="557.4" y="703.5" width="0.9" height="0.9" fill="#c4c4c4"/><rect x="557.2" y="686.3" width="0.9" height="0.9" fill="#c4c4c4"/><rect x="545.3" y="688.9" width="0.9" height="0.9" fill="#c4c4c4"/><rect x="556.3" y="689.8" width="0.9" height="0.9" fill="#c4c4c4"/><rect x="552.4" y="679.0" width="0.9" height="0.9" fill="#c4c4c4"/><rect x="552.2" y="684.6" width="0.9" height="0.9" fill="#c4c4c4"/><rect x="554.1" y="692.9" width="0.9" height="0.9" fill="#c4c4c4"/><rect x="548.7" y="675.0" width="0.9" height="0.9" fill="#c4c4c4"/><rect x="557.5" y="704.2" width="0.9" height="0.9" fill="#c4c4c4"/><rect x="555.6" y="694.3" width="0.9" height="0.9" fill="#c4c4c4"/><rect x="552.1" y="676.8" width="0.9" height="0.9" fill="#c4c4c4"/><rect x="551.0" y="698.7" width="0.9" height="0.9" fill="#c4c4c4"/><rect x="546.9" y="686.7" width="0.9" height="0.9" fill="#c4c4c4"/><rect x="551.3" y="674.5" width="0.9" height="0.9" fill="#c4c4c4"/><rect x="552.2" y="708.5" width="0.9" height="0.9" fill="#c4c4c4"/><rect x="545.4" y="698.3" width="0.9" height="0.9" fill="#c4c4c4"/><rect x="620.4" y="695.6" width="0.9" height="0.9" fill="#c4c4c4"/><rect x="609.1" y="686.3" width="0.9" height="0.9" fill="#c4c4c4"/><rect x="612.4" y="683.1" width="0.9" height="0.9" fill="#c4c4c4"/><rect x="621.7" y="688.4" width="0.9" height="0.9" fill="#c4c4c4"/><rect x="622.5" y="679.7" width="0.9" height="0.9" fill="#c4c4c4"/><rect x="619.9" y="684.8" width="0.9" height="0.9" fill="#c4c4c4"/><rect x="615.4" y="672.8" width="0.9" height="0.9" fill="#c4c4c4"/><rect x="620.1" y="694.2" width="0.9" height="0.9" fill="#c4c4c4"/><rect x="613.6" y="694.8" width="0.9" height="0.9" fill="#c4c4c4"/><rect x="612.7" y="676.3" width="0.9" height="0.9" fill="#c4c4c4"/><rect x="622.3" y="682.4" width="0.9" height="0.9" fill="#c4c4c4"/><rect x="616.7" y="679.9" width="0.9" height="0.9" fill="#c4c4c4"/><rect x="617.8" y="680.4" width="0.9" height="0.9" fill="#c4c4c4"/><rect x="618.4" y="681.3" width="0.9" height="0.9" fill="#c4c4c4"/><rect x="621.4" y="685.5" width="0.9" height="0.9" fill="#c4c4c4"/><rect x="609.6" y="693.8" width="0.9" height="0.9" fill="#c4c4c4"/><rect x="617.9" y="682.2" width="0.9" height="0.9" fill="#c4c4c4"/><rect x="622.4" y="699.0" width="0.9" height="0.9" fill="#c4c4c4"/><rect x="617.0" y="675.4" width="0.9" height="0.9" fill="#c4c4c4"/><rect x="616.2" y="679.6" width="0.9" height="0.9" fill="#c4c4c4"/><rect x="677.9" y="684.7" width="0.9" height="0.9" fill="#c4c4c4"/><rect x="679.9" y="639.9" width="0.9" height="0.9" fill="#c4c4c4"/><rect x="678.0" y="669.6" width="0.9" height="0.9" fill="#c4c4c4"/><rect x="677.4" y="674.6" width="0.9" height="0.9" fill="#c4c4c4"/><rect x="681.9" y="653.5" width="0.9" height="0.9" fill="#c4c4c4"/><rect x="686.7" y="659.0" width="0.9" height="0.9" fill="#c4c4c4"/><rect x="682.4" y="670.7" width="0.9" height="0.9" fill="#c4c4c4"/><rect x="679.1" y="677.8" width="0.9" height="0.9" fill="#c4c4c4"/><rect x="675.4" y="674.4" width="0.9" height="0.9" fill="#c4c4c4"/><rect x="681.6" y="660.7" width="0.9" height="0.9" fill="#c4c4c4"/><rect x="686.1" y="687.0" width="0.9" height="0.9" fill="#c4c4c4"/><rect x="682.1" y="679.6" width="0.9" height="0.9" fill="#c4c4c4"/><rect x="677.4" y="664.5" width="0.9" height="0.9" fill="#c4c4c4"/><rect x="680.6" y="623.0" width="0.9" height="0.9" fill="#c4c4c4"/><rect x="678.2" y="668.4" width="0.9" height="0.9" fill="#c4c4c4"/><rect x="684.7" y="659.3" width="0.9" height="0.9" fill="#c4c4c4"/><rect x="680.8" y="637.7" width="0.9" height="0.9" fill="#c4c4c4"/><rect x="679.2" y="682.6" width="0.9" height="0.9" fill="#c4c4c4"/><rect x="680.3" y="645.8" width="0.9" height="0.9" fill="#c4c4c4"/><rect x="679.9" y="676.4" width="0.9" height="0.9" fill="#c4c4c4"/><rect x="674.4" y="682.3" width="0.9" height="0.9" fill="#c4c4c4"/><rect x="678.5" y="668.5" width="0.9" height="0.9" fill="#c4c4c4"/><rect x="676.5" y="658.6" width="0.9" height="0.9" fill="#c4c4c4"/><rect x="673.7" y="661.8" width="0.9" height="0.9" fill="#c4c4c4"/><rect x="682.4" y="643.7" width="0.9" height="0.9" fill="#c4c4c4"/><rect x="678.5" y="654.2" width="0.9" height="0.9" fill="#c4c4c4"/><rect x="680.3" y="667.7" width="0.9" height="0.9" fill="#c4c4c4"/><rect x="677.0" y="669.9" width="0.9" height="0.9" fill="#c4c4c4"/><rect x="679.7" y="669.5" width="0.9" height="0.9" fill="#c4c4c4"/><rect x="682.6" y="681.0" width="0.9" height="0.9" fill="#c4c4c4"/><rect x="675.5" y="677.8" width="0.9" height="0.9" fill="#c4c4c4"/><rect x="674.9" y="685.2" width="0.9" height="0.9" fill="#c4c4c4"/><rect x="686.9" y="687.5" width="0.9" height="0.9" fill="#c4c4c4"/><rect x="684.8" y="680.5" width="0.9" height="0.9" fill="#c4c4c4"/><rect x="674.6" y="663.2" width="0.9" height="0.9" fill="#c4c4c4"/><rect x="675.2" y="656.0" width="0.9" height="0.9" fill="#c4c4c4"/><rect x="681.9" y="688.3" width="0.9" height="0.9" fill="#c4c4c4"/><rect x="679.9" y="663.8" width="0.9" height="0.9" fill="#c4c4c4"/><rect x="683.8" y="671.3" width="0.9" height="0.9" fill="#c4c4c4"/><rect x="677.8" y="679.9" width="0.9" height="0.9" fill="#c4c4c4"/><rect x="677.0" y="686.8" width="0.9" height="0.9" fill="#c4c4c4"/><rect x="680.1" y="636.0" width="0.9" height="0.9" fill="#c4c4c4"/><rect x="684.0" y="677.0" width="0.9" height="0.9" fill="#c4c4c4"/><rect x="677.1" y="686.9" width="0.9" height="0.9" fill="#c4c4c4"/><rect x="681.9" y="662.7" width="0.9" height="0.9" fill="#c4c4c4"/><rect x="674.4" y="678.2" width="0.9" height="0.9" fill="#c4c4c4"/><rect x="683.7" y="677.4" width="0.9" height="0.9" fill="#c4c4c4"/><rect x="680.4" y="615.9" width="0.9" height="0.9" fill="#c4c4c4"/><rect x="682.8" y="672.9" width="0.9" height="0.9" fill="#c4c4c4"/><rect x="674.5" y="659.5" width="0.9" height="0.9" fill="#c4c4c4"/><rect x="678.1" y="652.5" width="0.9" height="0.9" fill="#c4c4c4"/><rect x="675.2" y="680.7" width="0.9" height="0.9" fill="#c4c4c4"/><rect x="679.0" y="646.0" width="0.9" height="0.9" fill="#c4c4c4"/><rect x="679.3" y="640.2" width="0.9" height="0.9" fill="#c4c4c4"/><rect x="685.7" y="685.6" width="0.9" height="0.9" fill="#c4c4c4"/><rect x="677.2" y="652.8" width="0.9" height="0.9" fill="#c4c4c4"/><rect x="679.9" y="683.6" width="0.9" height="0.9" fill="#c4c4c4"/><rect x="675.2" y="673.4" width="0.9" height="0.9" fill="#c4c4c4"/><rect x="680.6" y="601.3" width="0.9" height="0.9" fill="#c4c4c4"/><rect x="680.3" y="651.3" width="0.9" height="0.9" fill="#c4c4c4"/><rect x="676.8" y="685.0" width="0.9" height="0.9" fill="#c4c4c4"/><rect x="684.8" y="671.7" width="0.9" height="0.9" fill="#c4c4c4"/><rect x="685.2" y="667.2" width="0.9" height="0.9" fill="#c4c4c4"/><rect x="678.8" y="674.3" width="0.9" height="0.9" fill="#c4c4c4"/><rect x="679.3" y="661.9" width="0.9" height="0.9" fill="#c4c4c4"/><rect x="681.1" y="635.3" width="0.9" height="0.9" fill="#c4c4c4"/><rect x="675.2" y="672.0" width="0.9" height="0.9" fill="#c4c4c4"/><rect x="686.1" y="662.0" width="0.9" height="0.9" fill="#c4c4c4"/><rect x="683.2" y="659.6" width="0.9" height="0.9" fill="#c4c4c4"/><rect x="683.9" y="675.6" width="0.9" height="0.9" fill="#c4c4c4"/><rect x="683.0" y="667.7" width="0.9" height="0.9" fill="#c4c4c4"/><rect x="680.4" y="693.8" width="0.9" height="0.9" fill="#c4c4c4"/><rect x="682.6" y="675.7" width="0.9" height="0.9" fill="#c4c4c4"/><rect x="680.0" y="691.8" width="0.9" height="0.9" fill="#c4c4c4"/><rect x="682.8" y="684.2" width="0.9" height="0.9" fill="#c4c4c4"/><rect x="677.4" y="688.9" width="0.9" height="0.9" fill="#c4c4c4"/><rect x="681.6" y="646.4" width="0.9" height="0.9" fill="#c4c4c4"/><rect x="687.1" y="669.2" width="0.9" height="0.9" fill="#c4c4c4"/><rect x="673.8" y="662.4" width="0.9" height="0.9" fill="#c4c4c4"/><rect x="676.8" y="678.3" width="0.9" height="0.9" fill="#c4c4c4"/><rect x="677.2" y="667.6" width="0.9" height="0.9" fill="#c4c4c4"/><rect x="675.7" y="658.1" width="0.9" height="0.9" fill="#c4c4c4"/><rect x="683.6" y="677.9" width="0.9" height="0.9" fill="#c4c4c4"/><rect x="681.0" y="694.2" width="0.9" height="0.9" fill="#c4c4c4"/><rect x="675.5" y="673.5" width="0.9" height="0.9" fill="#c4c4c4"/><rect x="683.7" y="682.6" width="0.9" height="0.9" fill="#c4c4c4"/><rect x="682.2" y="670.0" width="0.9" height="0.9" fill="#c4c4c4"/><rect x="682.1" y="682.1" width="0.9" height="0.9" fill="#c4c4c4"/><rect x="684.2" y="651.2" width="0.9" height="0.9" fill="#c4c4c4"/><rect x="680.0" y="689.5" width="0.9" height="0.9" fill="#c4c4c4"/><rect x="679.9" y="666.8" width="0.9" height="0.9" fill="#c4c4c4"/><rect x="674.1" y="669.5" width="0.9" height="0.9" fill="#c4c4c4"/><rect x="674.5" y="666.9" width="0.9" height="0.9" fill="#c4c4c4"/><rect x="680.3" y="639.7" width="0.9" height="0.9" fill="#c4c4c4"/><rect x="676.2" y="689.1" width="0.9" height="0.9" fill="#c4c4c4"/><rect x="678.6" y="688.7" width="0.9" height="0.9" fill="#c4c4c4"/><rect x="680.1" y="664.6" width="0.9" height="0.9" fill="#c4c4c4"/><rect x="675.4" y="681.4" width="0.9" height="0.9" fill="#c4c4c4"/><rect x="686.9" y="665.0" width="0.9" height="0.9" fill="#c4c4c4"/><rect x="684.1" y="669.4" width="0.9" height="0.9" fill="#c4c4c4"/><rect x="684.9" y="683.1" width="0.9" height="0.9" fill="#c4c4c4"/><rect x="685.7" y="671.9" width="0.9" height="0.9" fill="#c4c4c4"/><rect x="678.4" y="656.2" width="0.9" height="0.9" fill="#c4c4c4"/><rect x="680.1" y="668.9" width="0.9" height="0.9" fill="#c4c4c4"/><rect x="681.8" y="660.0" width="0.9" height="0.9" fill="#c4c4c4"/><rect x="686.4" y="678.3" width="0.9" height="0.9" fill="#c4c4c4"/><rect x="682.6" y="694.1" width="0.9" height="0.9" fill="#c4c4c4"/><rect x="681.2" y="683.8" width="0.9" height="0.9" fill="#c4c4c4"/><rect x="683.2" y="693.2" width="0.9" height="0.9" fill="#c4c4c4"/><rect x="677.4" y="664.3" width="0.9" height="0.9" fill="#c4c4c4"/><rect x="678.0" y="644.4" width="0.9" height="0.9" fill="#c4c4c4"/><rect x="677.1" y="686.2" width="0.9" height="0.9" fill="#c4c4c4"/><rect x="681.5" y="651.6" width="0.9" height="0.9" fill="#c4c4c4"/><rect x="684.0" y="661.9" width="0.9" height="0.9" fill="#c4c4c4"/><rect x="677.4" y="680.8" width="0.9" height="0.9" fill="#c4c4c4"/><rect x="679.2" y="640.5" width="0.9" height="0.9" fill="#c4c4c4"/><rect x="678.3" y="669.8" width="0.9" height="0.9" fill="#c4c4c4"/><rect x="677.1" y="688.9" width="0.9" height="0.9" fill="#c4c4c4"/><rect x="675.8" y="666.7" width="0.9" height="0.9" fill="#c4c4c4"/><rect x="680.4" y="649.8" width="0.9" height="0.9" fill="#c4c4c4"/>
<line x1="487.5" y1="676.8" x2="487.5" y2="689.0" stroke="#aaa" stroke-width="0.5"/><line x1="487.5" y1="699.5" x2="487.5" y2="707.3" stroke="#aaa" stroke-width="0.5"/><rect x="484.5" y="689.0" width="6.2" height="10.5" fill="none" stroke="#999" stroke-width="0.5"/><line x1="484.5" y1="695.4" x2="490.7" y2="695.4" stroke="#333" stroke-width="1.1"/><line x1="552.0" y1="665" x2="552.0" y2="684.3" stroke="#aaa" stroke-width="0.5"/><line x1="552.0" y1="698.0" x2="552.0" y2="712" stroke="#aaa" stroke-width="0.5"/><rect x="548.5" y="684.3" width="7.0" height="13.7" fill="none" stroke="#999" stroke-width="0.5"/><line x1="548.5" y1="692.3" x2="555.5" y2="692.3" stroke="#333" stroke-width="1.1"/><line x1="616.4" y1="671.5" x2="616.4" y2="683.3" stroke="#aaa" stroke-width="0.5"/><line x1="616.4" y1="694.5" x2="616.4" y2="706.6" stroke="#aaa" stroke-width="0.5"/><rect x="613.1" y="683.3" width="6.6" height="11.2" fill="none" stroke="#999" stroke-width="0.5"/><line x1="613.1" y1="689.3" x2="619.7" y2="689.3" stroke="#333" stroke-width="1.1"/><line x1="681.0" y1="647.5" x2="681.0" y2="662.4" stroke="#aaa" stroke-width="0.5"/><line x1="681.0" y1="681.3" x2="681.0" y2="690" stroke="#aaa" stroke-width="0.5"/><rect x="678.0" y="662.4" width="6.4" height="18.9" fill="none" stroke="#999" stroke-width="0.5"/><line x1="678.0" y1="670.8" x2="684.4" y2="670.8" stroke="#333" stroke-width="1.1"/>
<rect x="448.9" y="567.5" width="270.5" height="163.8" fill="none" stroke="#9e9e9e" stroke-width="0.9"/>
<line x1="446.4" y1="704.2" x2="448.9" y2="704.2" stroke="#9e9e9e" stroke-width="0.8"/><text x="442.4" y="707.4" text-anchor="end" font-size="11" fill="#111">0</text><line x1="446.4" y1="654.5" x2="448.9" y2="654.5" stroke="#9e9e9e" stroke-width="0.8"/><text x="442.4" y="657.7" text-anchor="end" font-size="11" fill="#111">5</text><line x1="446.4" y1="604.7" x2="448.9" y2="604.7" stroke="#9e9e9e" stroke-width="0.8"/><text x="442.4" y="607.9" text-anchor="end" font-size="11" fill="#111">10</text>
<text x="453.3" y="581.2" font-size="11" fill="#111">IL6</text>
<text transform="translate(420.0,650.2) rotate(-90)" text-anchor="middle" font-size="11" fill="#111">NPX</text>
<line x1="105.5" y1="887.1" x2="376.5" y2="887.1" stroke="#f2f2f2" stroke-width="0.5"/><line x1="105.5" y1="842.3" x2="376.5" y2="842.3" stroke="#f2f2f2" stroke-width="0.5"/><line x1="105.5" y1="797.6" x2="376.5" y2="797.6" stroke="#f2f2f2" stroke-width="0.5"/><line x1="105.5" y1="752.8" x2="376.5" y2="752.8" stroke="#f2f2f2" stroke-width="0.5"/><line x1="105.5" y1="864.7" x2="376.5" y2="864.7" stroke="#ebebeb" stroke-width="0.8"/><line x1="105.5" y1="820.0" x2="376.5" y2="820.0" stroke="#ebebeb" stroke-width="0.8"/><line x1="105.5" y1="775.2" x2="376.5" y2="775.2" stroke="#ebebeb" stroke-width="0.8"/><line x1="144.2" y1="731.3" x2="144.2" y2="896.2" stroke="#ebebeb" stroke-width="0.8"/><line x1="208.4" y1="731.3" x2="208.4" y2="896.2" stroke="#ebebeb" stroke-width="0.8"/><line x1="272.8" y1="731.3" x2="272.8" y2="896.2" stroke="#ebebeb" stroke-width="0.8"/><line x1="337.4" y1="731.3" x2="337.4" y2="896.2" stroke="#ebebeb" stroke-width="0.8"/>
<line x1="144.05" y1="787.5" x2="144.05" y2="790.9" stroke="#8a8a8a" stroke-width="1.1"/><line x1="144.05" y1="828.8" x2="144.05" y2="830.9" stroke="#8a8a8a" stroke-width="1.1"/><path d="M144.05,790.40 C144.25,790.82 144.97,791.93 145.25,792.90 C145.53,793.87 145.52,795.30 145.75,796.20 C145.98,797.10 145.80,797.62 146.65,798.30 C147.50,798.98 149.33,799.55 150.85,800.30 C152.37,801.05 154.10,801.97 155.75,802.80 C157.40,803.63 159.23,804.47 160.75,805.30 C162.27,806.13 163.55,806.97 164.85,807.80 C166.15,808.63 167.52,809.48 168.55,810.30 C169.58,811.12 171.12,811.88 171.05,812.70 C170.98,813.52 169.73,814.37 168.15,815.20 C166.57,816.03 164.03,816.87 161.55,817.70 C159.07,818.53 155.18,819.52 153.25,820.20 C151.32,820.88 150.90,821.12 149.95,821.80 C149.00,822.48 148.30,823.47 147.55,824.30 C146.80,825.13 146.03,825.97 145.45,826.80 C144.87,827.63 144.28,828.88 144.05,829.30 C143.82,828.88 143.23,827.63 142.65,826.80 C142.07,825.97 141.30,825.13 140.55,824.30 C139.80,823.47 139.10,822.48 138.15,821.80 C137.20,821.12 136.78,820.88 134.85,820.20 C132.92,819.52 129.03,818.53 126.55,817.70 C124.07,816.87 121.53,816.03 119.95,815.20 C118.37,814.37 117.12,813.52 117.05,812.70 C116.98,811.88 118.52,811.12 119.55,810.30 C120.58,809.48 121.95,808.63 123.25,807.80 C124.55,806.97 125.83,806.13 127.35,805.30 C128.87,804.47 130.70,803.63 132.35,802.80 C134.00,801.97 135.73,801.05 137.25,800.30 C138.77,799.55 140.60,798.98 141.45,798.30 C142.30,797.62 142.12,797.10 142.35,796.20 C142.58,795.30 142.57,793.87 142.85,792.90 C143.13,791.93 143.85,790.82 144.05,790.40 Z" fill="none" stroke="#5a5a5a" stroke-width="0.7"/><line x1="208.5" y1="754.2" x2="208.5" y2="779.2" stroke="#8a8a8a" stroke-width="1.1"/><line x1="208.5" y1="835.7" x2="208.5" y2="839.5" stroke="#8a8a8a" stroke-width="1.1"/><path d="M208.50,778.70 C208.65,779.43 209.20,782.05 209.40,783.10 C209.60,784.15 209.58,784.00 209.70,785.00 C209.82,786.00 209.95,787.72 210.10,789.10 C210.25,790.48 210.22,792.05 210.60,793.30 C210.98,794.55 211.83,795.50 212.40,796.60 C212.97,797.70 213.52,798.80 214.00,799.90 C214.48,801.00 214.82,802.10 215.30,803.20 C215.78,804.30 216.15,805.53 216.90,806.50 C217.65,807.47 218.63,808.18 219.80,809.00 C220.97,809.82 222.52,810.58 223.90,811.40 C225.28,812.22 226.92,813.07 228.10,813.90 C229.28,814.73 230.45,815.78 231.00,816.40 C231.55,817.02 231.75,817.05 231.40,817.60 C231.05,818.15 230.28,818.80 228.90,819.70 C227.52,820.60 225.03,821.90 223.10,823.00 C221.17,824.10 219.08,825.20 217.30,826.30 C215.52,827.40 213.70,828.50 212.40,829.60 C211.10,830.70 210.15,831.80 209.50,832.90 C208.85,834.00 208.67,835.65 208.50,836.20 C208.33,835.65 208.15,834.00 207.50,832.90 C206.85,831.80 205.90,830.70 204.60,829.60 C203.30,828.50 201.48,827.40 199.70,826.30 C197.92,825.20 195.83,824.10 193.90,823.00 C191.97,821.90 189.48,820.60 188.10,819.70 C186.72,818.80 185.95,818.15 185.60,817.60 C185.25,817.05 185.45,817.02 186.00,816.40 C186.55,815.78 187.72,814.73 188.90,813.90 C190.08,813.07 191.72,812.22 193.10,811.40 C194.48,810.58 196.03,809.82 197.20,809.00 C198.37,808.18 199.35,807.47 200.10,806.50 C200.85,805.53 201.22,804.30 201.70,803.20 C202.18,802.10 202.52,801.00 203.00,799.90 C203.48,798.80 204.03,797.70 204.60,796.60 C205.17,795.50 206.02,794.55 206.40,793.30 C206.78,792.05 206.75,790.48 206.90,789.10 C207.05,787.72 207.18,786.00 207.30,785.00 C207.42,784.00 207.40,784.15 207.60,783.10 C207.80,782.05 208.35,779.43 208.50,778.70 Z" fill="none" stroke="#5a5a5a" stroke-width="0.7"/><path d="M273.00,787.40 C273.35,787.95 274.48,789.45 275.10,790.70 C275.72,791.95 276.50,793.38 276.70,794.90 C276.90,796.42 276.08,798.57 276.30,799.80 C276.52,801.03 276.90,801.33 278.00,802.30 C279.10,803.27 281.12,804.50 282.90,805.60 C284.68,806.70 286.35,807.80 288.70,808.90 C291.05,810.00 294.73,811.17 297.00,812.20 C299.27,813.23 302.72,814.13 302.30,815.10 C301.88,816.07 297.32,816.97 294.50,818.00 C291.68,819.03 288.15,820.20 285.40,821.30 C282.65,822.40 279.87,823.63 278.00,824.60 C276.13,825.57 275.03,826.27 274.20,827.10 C273.37,827.93 273.20,829.18 273.00,829.60 C272.80,829.18 272.63,827.93 271.80,827.10 C270.97,826.27 269.87,825.57 268.00,824.60 C266.13,823.63 263.35,822.40 260.60,821.30 C257.85,820.20 254.32,819.03 251.50,818.00 C248.68,816.97 244.12,816.07 243.70,815.10 C243.28,814.13 246.73,813.23 249.00,812.20 C251.27,811.17 254.95,810.00 257.30,808.90 C259.65,807.80 261.32,806.70 263.10,805.60 C264.88,804.50 266.90,803.27 268.00,802.30 C269.10,801.33 269.48,801.03 269.70,799.80 C269.92,798.57 269.10,796.42 269.30,794.90 C269.50,793.38 270.28,791.95 270.90,790.70 C271.52,789.45 272.65,787.95 273.00,787.40 Z" fill="none" stroke="#5a5a5a" stroke-width="0.7"/><line x1="337.4" y1="738.1" x2="337.4" y2="745.9" stroke="#8a8a8a" stroke-width="1.1"/><line x1="337.4" y1="821.0" x2="337.4" y2="888.5" stroke="#8a8a8a" stroke-width="1.1"/><path d="M337.40,745.40 C337.63,746.27 338.37,748.87 338.80,750.60 C339.23,752.33 339.57,754.07 340.00,755.80 C340.43,757.53 340.93,759.25 341.40,761.00 C341.87,762.75 342.28,764.55 342.80,766.30 C343.32,768.05 343.92,769.77 344.50,771.50 C345.08,773.23 345.75,774.97 346.30,776.70 C346.85,778.43 347.43,780.17 347.80,781.90 C348.17,783.63 348.50,785.37 348.50,787.10 C348.50,788.83 348.22,790.57 347.80,792.30 C347.38,794.03 346.60,795.77 346.00,797.50 C345.40,799.23 344.82,800.97 344.20,802.70 C343.58,804.43 343.00,806.17 342.30,807.90 C341.60,809.63 340.70,811.37 340.00,813.10 C339.30,814.83 338.53,816.90 338.10,818.30 C337.67,819.70 337.52,820.97 337.40,821.50 C337.28,820.97 337.13,819.70 336.70,818.30 C336.27,816.90 335.50,814.83 334.80,813.10 C334.10,811.37 333.20,809.63 332.50,807.90 C331.80,806.17 331.22,804.43 330.60,802.70 C329.98,800.97 329.40,799.23 328.80,797.50 C328.20,795.77 327.42,794.03 327.00,792.30 C326.58,790.57 326.30,788.83 326.30,787.10 C326.30,785.37 326.63,783.63 327.00,781.90 C327.37,780.17 327.95,778.43 328.50,776.70 C329.05,774.97 329.72,773.23 330.30,771.50 C330.88,769.77 331.48,768.05 332.00,766.30 C332.52,764.55 332.93,762.75 333.40,761.00 C333.87,759.25 334.37,757.53 334.80,755.80 C335.23,754.07 335.57,752.33 336.00,750.60 C336.43,748.87 337.17,746.27 337.40,745.40 Z" fill="none" stroke="#5a5a5a" stroke-width="0.7"/>
<rect x="144.9" y="807.5" width="0.9" height="0.9" fill="#c4c4c4"/><rect x="141.5" y="802.4" width="0.9" height="0.9" fill="#c4c4c4"/><rect x="138.7" y="817.0" width="0.9" height="0.9" fill="#c4c4c4"/><rect x="145.4" y="818.7" width="0.9" height="0.9" fill="#c4c4c4"/><rect x="144.4" y="805.8" width="0.9" height="0.9" fill="#c4c4c4"/><rect x="149.9" y="815.8" width="0.9" height="0.9" fill="#c4c4c4"/><rect x="141.4" y="812.7" width="0.9" height="0.9" fill="#c4c4c4"/><rect x="138.2" y="804.5" width="0.9" height="0.9" fill="#c4c4c4"/><rect x="141.7" y="807.9" width="0.9" height="0.9" fill="#c4c4c4"/><rect x="141.3" y="814.8" width="0.9" height="0.9" fill="#c4c4c4"/><rect x="141.7" y="803.1" width="0.9" height="0.9" fill="#c4c4c4"/><rect x="145.1" y="822.7" width="0.9" height="0.9" fill="#c4c4c4"/><rect x="137.9" y="811.0" width="0.9" height="0.9" fill="#c4c4c4"/><rect x="138.9" y="814.4" width="0.9" height="0.9" fill="#c4c4c4"/><rect x="140.1" y="805.9" width="0.9" height="0.9" fill="#c4c4c4"/><rect x="144.0" y="819.0" width="0.9" height="0.9" fill="#c4c4c4"/><rect x="142.8" y="816.6" width="0.9" height="0.9" fill="#c4c4c4"/><rect x="142.1" y="813.1" width="0.9" height="0.9" fill="#c4c4c4"/><rect x="142.3" y="811.8" width="0.9" height="0.9" fill="#c4c4c4"/><rect x="147.2" y="816.9" width="0.9" height="0.9" fill="#c4c4c4"/><rect x="149.5" y="808.3" width="0.9" height="0.9" fill="#c4c4c4"/><rect x="147.3" y="819.9" width="0.9" height="0.9" fill="#c4c4c4"/><rect x="144.8" y="811.9" width="0.9" height="0.9" fill="#c4c4c4"/><rect x="143.5" y="815.2" width="0.9" height="0.9" fill="#c4c4c4"/><rect x="145.8" y="818.4" width="0.9" height="0.9" fill="#c4c4c4"/><rect x="147.2" y="811.9" width="0.9" height="0.9" fill="#c4c4c4"/><rect x="147.1" y="807.6" width="0.9" height="0.9" fill="#c4c4c4"/><rect x="138.4" y="810.5" width="0.9" height="0.9" fill="#c4c4c4"/><rect x="140.1" y="814.7" width="0.9" height="0.9" fill="#c4c4c4"/><rect x="143.4" y="822.4" width="0.9" height="0.9" fill="#c4c4c4"/><rect x="143.5" y="825.8" width="0.9" height="0.9" fill="#c4c4c4"/><rect x="146.8" y="807.4" width="0.9" height="0.9" fill="#c4c4c4"/><rect x="141.0" y="822.4" width="0.9" height="0.9" fill="#c4c4c4"/><rect x="138.9" y="808.8" width="0.9" height="0.9" fill="#c4c4c4"/><rect x="148.6" y="814.4" width="0.9" height="0.9" fill="#c4c4c4"/><rect x="149.4" y="806.3" width="0.9" height="0.9" fill="#c4c4c4"/><rect x="143.1" y="819.4" width="0.9" height="0.9" fill="#c4c4c4"/><rect x="142.3" y="816.7" width="0.9" height="0.9" fill="#c4c4c4"/><rect x="140.3" y="807.5" width="0.9" height="0.9" fill="#c4c4c4"/><rect x="142.0" y="812.3" width="0.9" height="0.9" fill="#c4c4c4"/><rect x="137.0" y="810.8" width="0.9" height="0.9" fill="#c4c4c4"/><rect x="146.2" y="811.5" width="0.9" height="0.9" fill="#c4c4c4"/><rect x="148.7" y="814.6" width="0.9" height="0.9" fill="#c4c4c4"/><rect x="145.1" y="816.1" width="0.9" height="0.9" fill="#c4c4c4"/><rect x="143.6" y="789.8" width="0.9" height="0.9" fill="#c4c4c4"/><rect x="149.6" y="816.1" width="0.9" height="0.9" fill="#c4c4c4"/><rect x="137.3" y="818.0" width="0.9" height="0.9" fill="#c4c4c4"/><rect x="141.3" y="822.8" width="0.9" height="0.9" fill="#c4c4c4"/><rect x="150.1" y="809.4" width="0.9" height="0.9" fill="#c4c4c4"/><rect x="138.7" y="819.4" width="0.9" height="0.9" fill="#c4c4c4"/><rect x="211.2" y="809.5" width="0.9" height="0.9" fill="#c4c4c4"/><rect x="208.1" y="822.1" width="0.9" height="0.9" fill="#c4c4c4"/><rect x="212.6" y="818.3" width="0.9" height="0.9" fill="#c4c4c4"/><rect x="208.1" y="825.0" width="0.9" height="0.9" fill="#c4c4c4"/><rect x="208.2" y="817.1" width="0.9" height="0.9" fill="#c4c4c4"/><rect x="203.2" y="812.5" width="0.9" height="0.9" fill="#c4c4c4"/><rect x="212.4" y="810.9" width="0.9" height="0.9" fill="#c4c4c4"/><rect x="203.0" y="823.2" width="0.9" height="0.9" fill="#c4c4c4"/><rect x="209.1" y="795.0" width="0.9" height="0.9" fill="#c4c4c4"/><rect x="214.7" y="813.2" width="0.9" height="0.9" fill="#c4c4c4"/><rect x="205.6" y="822.1" width="0.9" height="0.9" fill="#c4c4c4"/><rect x="210.8" y="815.4" width="0.9" height="0.9" fill="#c4c4c4"/><rect x="206.7" y="791.1" width="0.9" height="0.9" fill="#c4c4c4"/><rect x="210.0" y="815.7" width="0.9" height="0.9" fill="#c4c4c4"/><rect x="206.4" y="814.9" width="0.9" height="0.9" fill="#c4c4c4"/><rect x="201.6" y="811.0" width="0.9" height="0.9" fill="#c4c4c4"/><rect x="205.3" y="803.9" width="0.9" height="0.9" fill="#c4c4c4"/><rect x="208.3" y="813.8" width="0.9" height="0.9" fill="#c4c4c4"/><rect x="207.8" y="814.2" width="0.9" height="0.9" fill="#c4c4c4"/><rect x="207.4" y="816.1" width="0.9" height="0.9" fill="#c4c4c4"/><rect x="204.3" y="816.3" width="0.9" height="0.9" fill="#c4c4c4"/><rect x="210.5" y="820.7" width="0.9" height="0.9" fill="#c4c4c4"/><rect x="209.0" y="784.5" width="0.9" height="0.9" fill="#c4c4c4"/><rect x="206.2" y="816.6" width="0.9" height="0.9" fill="#c4c4c4"/><rect x="212.9" y="814.5" width="0.9" height="0.9" fill="#c4c4c4"/><rect x="210.6" y="818.7" width="0.9" height="0.9" fill="#c4c4c4"/><rect x="201.3" y="807.0" width="0.9" height="0.9" fill="#c4c4c4"/><rect x="205.2" y="811.3" width="0.9" height="0.9" fill="#c4c4c4"/><rect x="208.7" y="785.9" width="0.9" height="0.9" fill="#c4c4c4"/><rect x="211.9" y="822.9" width="0.9" height="0.9" fill="#c4c4c4"/><rect x="204.7" y="822.0" width="0.9" height="0.9" fill="#c4c4c4"/><rect x="215.0" y="818.0" width="0.9" height="0.9" fill="#c4c4c4"/><rect x="207.8" y="771.9" width="0.9" height="0.9" fill="#c4c4c4"/><rect x="212.4" y="827.2" width="0.9" height="0.9" fill="#c4c4c4"/><rect x="207.7" y="811.4" width="0.9" height="0.9" fill="#c4c4c4"/><rect x="205.4" y="806.3" width="0.9" height="0.9" fill="#c4c4c4"/><rect x="209.7" y="811.6" width="0.9" height="0.9" fill="#c4c4c4"/><rect x="204.2" y="820.3" width="0.9" height="0.9" fill="#c4c4c4"/><rect x="209.6" y="809.4" width="0.9" height="0.9" fill="#c4c4c4"/><rect x="211.3" y="798.2" width="0.9" height="0.9" fill="#c4c4c4"/><rect x="213.1" y="812.5" width="0.9" height="0.9" fill="#c4c4c4"/><rect x="207.8" y="782.7" width="0.9" height="0.9" fill="#c4c4c4"/><rect x="203.3" y="807.0" width="0.9" height="0.9" fill="#c4c4c4"/><rect x="204.5" y="817.3" width="0.9" height="0.9" fill="#c4c4c4"/><rect x="204.2" y="813.0" width="0.9" height="0.9" fill="#c4c4c4"/><rect x="209.8" y="796.5" width="0.9" height="0.9" fill="#c4c4c4"/><rect x="206.0" y="817.3" width="0.9" height="0.9" fill="#c4c4c4"/><rect x="206.7" y="816.2" width="0.9" height="0.9" fill="#c4c4c4"/><rect x="211.6" y="798.5" width="0.9" height="0.9" fill="#c4c4c4"/><rect x="211.2" y="820.9" width="0.9" height="0.9" fill="#c4c4c4"/><rect x="211.9" y="807.2" width="0.9" height="0.9" fill="#c4c4c4"/><rect x="212.5" y="820.8" width="0.9" height="0.9" fill="#c4c4c4"/><rect x="206.0" y="797.2" width="0.9" height="0.9" fill="#c4c4c4"/><rect x="207.8" y="803.0" width="0.9" height="0.9" fill="#c4c4c4"/><rect x="208.6" y="819.2" width="0.9" height="0.9" fill="#c4c4c4"/><rect x="207.8" y="809.0" width="0.9" height="0.9" fill="#c4c4c4"/><rect x="208.8" y="812.7" width="0.9" height="0.9" fill="#c4c4c4"/><rect x="212.8" y="816.3" width="0.9" height="0.9" fill="#c4c4c4"/><rect x="205.6" y="828.0" width="0.9" height="0.9" fill="#c4c4c4"/><rect x="202.6" y="821.0" width="0.9" height="0.9" fill="#c4c4c4"/><rect x="208.0" y="772.8" width="0.9" height="0.9" fill="#c4c4c4"/><rect x="214.1" y="818.3" width="0.9" height="0.9" fill="#c4c4c4"/><rect x="203.5" y="824.6" width="0.9" height="0.9" fill="#c4c4c4"/><rect x="208.7" y="802.8" width="0.9" height="0.9" fill="#c4c4c4"/><rect x="206.6" y="827.5" width="0.9" height="0.9" fill="#c4c4c4"/><rect x="210.0" y="815.9" width="0.9" height="0.9" fill="#c4c4c4"/><rect x="212.1" y="810.9" width="0.9" height="0.9" fill="#c4c4c4"/><rect x="211.3" y="822.7" width="0.9" height="0.9" fill="#c4c4c4"/><rect x="207.5" y="828.3" width="0.9" height="0.9" fill="#c4c4c4"/><rect x="203.2" y="818.8" width="0.9" height="0.9" fill="#c4c4c4"/><rect x="207.9" y="789.3" width="0.9" height="0.9" fill="#c4c4c4"/><rect x="206.3" y="814.8" width="0.9" height="0.9" fill="#c4c4c4"/><rect x="210.6" y="797.9" width="0.9" height="0.9" fill="#c4c4c4"/><rect x="203.2" y="827.4" width="0.9" height="0.9" fill="#c4c4c4"/><rect x="211.1" y="812.9" width="0.9" height="0.9" fill="#c4c4c4"/><rect x="212.3" y="808.6" width="0.9" height="0.9" fill="#c4c4c4"/><rect x="215.0" y="805.9" width="0.9" height="0.9" fill="#c4c4c4"/><rect x="211.9" y="801.4" width="0.9" height="0.9" fill="#c4c4c4"/><rect x="207.5" y="806.3" width="0.9" height="0.9" fill="#c4c4c4"/><rect x="210.3" y="814.6" width="0.9" height="0.9" fill="#c4c4c4"/><rect x="210.2" y="813.1" width="0.9" height="0.9" fill="#c4c4c4"/><rect x="211.6" y="797.7" width="0.9" height="0.9" fill="#c4c4c4"/><rect x="211.4" y="825.3" width="0.9" height="0.9" fill="#c4c4c4"/><rect x="203.2" y="810.9" width="0.9" height="0.9" fill="#c4c4c4"/><rect x="206.2" y="802.2" width="0.9" height="0.9" fill="#c4c4c4"/><rect x="212.9" y="814.9" width="0.9" height="0.9" fill="#c4c4c4"/><rect x="207.9" y="787.4" width="0.9" height="0.9" fill="#c4c4c4"/><rect x="208.9" y="786.2" width="0.9" height="0.9" fill="#c4c4c4"/><rect x="209.1" y="785.8" width="0.9" height="0.9" fill="#c4c4c4"/><rect x="208.1" y="814.3" width="0.9" height="0.9" fill="#c4c4c4"/><rect x="202.6" y="818.5" width="0.9" height="0.9" fill="#c4c4c4"/><rect x="206.0" y="829.9" width="0.9" height="0.9" fill="#c4c4c4"/><rect x="214.7" y="807.6" width="0.9" height="0.9" fill="#c4c4c4"/><rect x="208.0" y="792.4" width="0.9" height="0.9" fill="#c4c4c4"/><rect x="204.4" y="820.3" width="0.9" height="0.9" fill="#c4c4c4"/><rect x="209.4" y="816.1" width="0.9" height="0.9" fill="#c4c4c4"/><rect x="213.3" y="818.5" width="0.9" height="0.9" fill="#c4c4c4"/><rect x="213.9" y="810.5" width="0.9" height="0.9" fill="#c4c4c4"/><rect x="205.7" y="818.7" width="0.9" height="0.9" fill="#c4c4c4"/><rect x="207.9" y="834.5" width="0.9" height="0.9" fill="#c4c4c4"/><rect x="210.4" y="828.5" width="0.9" height="0.9" fill="#c4c4c4"/><rect x="206.4" y="822.0" width="0.9" height="0.9" fill="#c4c4c4"/><rect x="202.8" y="813.5" width="0.9" height="0.9" fill="#c4c4c4"/><rect x="203.1" y="822.1" width="0.9" height="0.9" fill="#c4c4c4"/><rect x="201.1" y="822.9" width="0.9" height="0.9" fill="#c4c4c4"/><rect x="212.7" y="819.7" width="0.9" height="0.9" fill="#c4c4c4"/><rect x="205.3" y="802.1" width="0.9" height="0.9" fill="#c4c4c4"/><rect x="211.6" y="800.0" width="0.9" height="0.9" fill="#c4c4c4"/><rect x="202.8" y="813.2" width="0.9" height="0.9" fill="#c4c4c4"/><rect x="205.3" y="820.1" width="0.9" height="0.9" fill="#c4c4c4"/><rect x="277.0" y="819.5" width="0.9" height="0.9" fill="#c4c4c4"/><rect x="271.7" y="793.7" width="0.9" height="0.9" fill="#c4c4c4"/><rect x="268.8" y="824.1" width="0.9" height="0.9" fill="#c4c4c4"/><rect x="274.9" y="818.7" width="0.9" height="0.9" fill="#c4c4c4"/><rect x="271.3" y="815.0" width="0.9" height="0.9" fill="#c4c4c4"/><rect x="270.3" y="805.9" width="0.9" height="0.9" fill="#c4c4c4"/><rect x="270.1" y="818.1" width="0.9" height="0.9" fill="#c4c4c4"/><rect x="270.9" y="813.9" width="0.9" height="0.9" fill="#c4c4c4"/><rect x="272.6" y="797.9" width="0.9" height="0.9" fill="#c4c4c4"/><rect x="271.6" y="819.4" width="0.9" height="0.9" fill="#c4c4c4"/><rect x="272.8" y="814.8" width="0.9" height="0.9" fill="#c4c4c4"/><rect x="271.3" y="814.0" width="0.9" height="0.9" fill="#c4c4c4"/><rect x="268.3" y="806.7" width="0.9" height="0.9" fill="#c4c4c4"/><rect x="267.1" y="813.7" width="0.9" height="0.9" fill="#c4c4c4"/><rect x="279.3" y="811.6" width="0.9" height="0.9" fill="#c4c4c4"/><rect x="278.7" y="804.6" width="0.9" height="0.9" fill="#c4c4c4"/><rect x="271.5" y="811.9" width="0.9" height="0.9" fill="#c4c4c4"/><rect x="279.3" y="807.8" width="0.9" height="0.9" fill="#c4c4c4"/><rect x="266.3" y="810.7" width="0.9" height="0.9" fill="#c4c4c4"/><rect x="266.5" y="809.4" width="0.9" height="0.9" fill="#c4c4c4"/><rect x="333.8" y="804.7" width="0.9" height="0.9" fill="#c4c4c4"/><rect x="338.3" y="789.9" width="0.9" height="0.9" fill="#c4c4c4"/><rect x="334.8" y="782.6" width="0.9" height="0.9" fill="#c4c4c4"/><rect x="334.4" y="796.0" width="0.9" height="0.9" fill="#c4c4c4"/><rect x="338.4" y="811.2" width="0.9" height="0.9" fill="#c4c4c4"/><rect x="331.1" y="770.5" width="0.9" height="0.9" fill="#c4c4c4"/><rect x="340.6" y="776.6" width="0.9" height="0.9" fill="#c4c4c4"/><rect x="338.0" y="768.6" width="0.9" height="0.9" fill="#c4c4c4"/><rect x="331.3" y="784.4" width="0.9" height="0.9" fill="#c4c4c4"/><rect x="338.0" y="790.1" width="0.9" height="0.9" fill="#c4c4c4"/><rect x="335.3" y="759.9" width="0.9" height="0.9" fill="#c4c4c4"/><rect x="339.7" y="780.3" width="0.9" height="0.9" fill="#c4c4c4"/><rect x="336.0" y="785.9" width="0.9" height="0.9" fill="#c4c4c4"/><rect x="331.6" y="778.6" width="0.9" height="0.9" fill="#c4c4c4"/><rect x="332.5" y="792.9" width="0.9" height="0.9" fill="#c4c4c4"/><rect x="336.2" y="775.3" width="0.9" height="0.9" fill="#c4c4c4"/><rect x="340.8" y="783.5" width="0.9" height="0.9" fill="#c4c4c4"/><rect x="342.3" y="787.2" width="0.9" height="0.9" fill="#c4c4c4"/><rect x="341.5" y="773.5" width="0.9" height="0.9" fill="#c4c4c4"/><rect x="339.3" y="790.4" width="0.9" height="0.9" fill="#c4c4c4"/><rect x="337.1" y="755.4" width="0.9" height="0.9" fill="#c4c4c4"/><rect x="343.4" y="788.5" width="0.9" height="0.9" fill="#c4c4c4"/><rect x="342.4" y="789.4" width="0.9" height="0.9" fill="#c4c4c4"/><rect x="336.9" y="819.6" width="0.9" height="0.9" fill="#c4c4c4"/><rect x="342.9" y="779.0" width="0.9" height="0.9" fill="#c4c4c4"/><rect x="331.9" y="778.3" width="0.9" height="0.9" fill="#c4c4c4"/><rect x="341.3" y="769.2" width="0.9" height="0.9" fill="#c4c4c4"/><rect x="343.2" y="800.7" width="0.9" height="0.9" fill="#c4c4c4"/><rect x="336.4" y="777.7" width="0.9" height="0.9" fill="#c4c4c4"/><rect x="335.0" y="770.0" width="0.9" height="0.9" fill="#c4c4c4"/><rect x="335.8" y="784.8" width="0.9" height="0.9" fill="#c4c4c4"/><rect x="341.2" y="789.4" width="0.9" height="0.9" fill="#c4c4c4"/><rect x="339.4" y="769.3" width="0.9" height="0.9" fill="#c4c4c4"/><rect x="337.7" y="801.0" width="0.9" height="0.9" fill="#c4c4c4"/><rect x="335.9" y="792.1" width="0.9" height="0.9" fill="#c4c4c4"/><rect x="337.6" y="751.2" width="0.9" height="0.9" fill="#c4c4c4"/><rect x="338.2" y="797.1" width="0.9" height="0.9" fill="#c4c4c4"/><rect x="330.2" y="792.8" width="0.9" height="0.9" fill="#c4c4c4"/><rect x="334.5" y="780.7" width="0.9" height="0.9" fill="#c4c4c4"/><rect x="341.1" y="776.0" width="0.9" height="0.9" fill="#c4c4c4"/><rect x="334.9" y="808.3" width="0.9" height="0.9" fill="#c4c4c4"/><rect x="338.4" y="759.5" width="0.9" height="0.9" fill="#c4c4c4"/><rect x="337.9" y="772.1" width="0.9" height="0.9" fill="#c4c4c4"/><rect x="341.3" y="786.5" width="0.9" height="0.9" fill="#c4c4c4"/><rect x="343.3" y="787.4" width="0.9" height="0.9" fill="#c4c4c4"/><rect x="331.5" y="786.9" width="0.9" height="0.9" fill="#c4c4c4"/><rect x="338.8" y="799.4" width="0.9" height="0.9" fill="#c4c4c4"/><rect x="331.7" y="789.2" width="0.9" height="0.9" fill="#c4c4c4"/><rect x="342.6" y="783.7" width="0.9" height="0.9" fill="#c4c4c4"/><rect x="342.7" y="777.1" width="0.9" height="0.9" fill="#c4c4c4"/><rect x="334.1" y="762.5" width="0.9" height="0.9" fill="#c4c4c4"/><rect x="335.8" y="769.8" width="0.9" height="0.9" fill="#c4c4c4"/><rect x="331.8" y="795.0" width="0.9" height="0.9" fill="#c4c4c4"/><rect x="338.5" y="764.3" width="0.9" height="0.9" fill="#c4c4c4"/><rect x="337.1" y="819.4" width="0.9" height="0.9" fill="#c4c4c4"/><rect x="334.3" y="802.8" width="0.9" height="0.9" fill="#c4c4c4"/><rect x="333.9" y="775.0" width="0.9" height="0.9" fill="#c4c4c4"/><rect x="341.0" y="789.7" width="0.9" height="0.9" fill="#c4c4c4"/><rect x="341.5" y="776.5" width="0.9" height="0.9" fill="#c4c4c4"/><rect x="334.1" y="791.3" width="0.9" height="0.9" fill="#c4c4c4"/><rect x="331.2" y="780.1" width="0.9" height="0.9" fill="#c4c4c4"/><rect x="340.9" y="765.7" width="0.9" height="0.9" fill="#c4c4c4"/><rect x="338.8" y="774.9" width="0.9" height="0.9" fill="#c4c4c4"/><rect x="335.9" y="754.3" width="0.9" height="0.9" fill="#c4c4c4"/><rect x="339.6" y="781.9" width="0.9" height="0.9" fill="#c4c4c4"/><rect x="332.3" y="785.7" width="0.9" height="0.9" fill="#c4c4c4"/><rect x="335.3" y="798.2" width="0.9" height="0.9" fill="#c4c4c4"/><rect x="342.2" y="776.1" width="0.9" height="0.9" fill="#c4c4c4"/><rect x="337.5" y="786.1" width="0.9" height="0.9" fill="#c4c4c4"/><rect x="341.6" y="789.3" width="0.9" height="0.9" fill="#c4c4c4"/><rect x="337.1" y="788.7" width="0.9" height="0.9" fill="#c4c4c4"/><rect x="335.6" y="790.8" width="0.9" height="0.9" fill="#c4c4c4"/><rect x="331.5" y="799.4" width="0.9" height="0.9" fill="#c4c4c4"/><rect x="336.8" y="745.4" width="0.9" height="0.9" fill="#c4c4c4"/><rect x="333.8" y="797.5" width="0.9" height="0.9" fill="#c4c4c4"/><rect x="338.4" y="760.0" width="0.9" height="0.9" fill="#c4c4c4"/><rect x="336.2" y="786.1" width="0.9" height="0.9" fill="#c4c4c4"/><rect x="338.0" y="804.5" width="0.9" height="0.9" fill="#c4c4c4"/><rect x="334.2" y="771.0" width="0.9" height="0.9" fill="#c4c4c4"/><rect x="337.8" y="782.9" width="0.9" height="0.9" fill="#c4c4c4"/><rect x="333.1" y="807.4" width="0.9" height="0.9" fill="#c4c4c4"/><rect x="338.9" y="764.1" width="0.9" height="0.9" fill="#c4c4c4"/><rect x="331.5" y="790.2" width="0.9" height="0.9" fill="#c4c4c4"/><rect x="343.5" y="783.6" width="0.9" height="0.9" fill="#c4c4c4"/><rect x="343.2" y="775.8" width="0.9" height="0.9" fill="#c4c4c4"/><rect x="335.0" y="777.3" width="0.9" height="0.9" fill="#c4c4c4"/><rect x="333.3" y="792.9" width="0.9" height="0.9" fill="#c4c4c4"/><rect x="331.0" y="790.0" width="0.9" height="0.9" fill="#c4c4c4"/><rect x="337.8" y="765.5" width="0.9" height="0.9" fill="#c4c4c4"/><rect x="332.2" y="802.2" width="0.9" height="0.9" fill="#c4c4c4"/><rect x="339.1" y="763.9" width="0.9" height="0.9" fill="#c4c4c4"/><rect x="343.4" y="773.3" width="0.9" height="0.9" fill="#c4c4c4"/><rect x="339.1" y="769.1" width="0.9" height="0.9" fill="#c4c4c4"/><rect x="336.6" y="786.4" width="0.9" height="0.9" fill="#c4c4c4"/><rect x="337.4" y="765.6" width="0.9" height="0.9" fill="#c4c4c4"/><rect x="339.8" y="771.1" width="0.9" height="0.9" fill="#c4c4c4"/><rect x="343.9" y="774.9" width="0.9" height="0.9" fill="#c4c4c4"/><rect x="336.9" y="838.4" width="0.9" height="0.9" fill="#c4c4c4"/><rect x="330.0" y="777.2" width="0.9" height="0.9" fill="#c4c4c4"/><rect x="342.3" y="775.2" width="0.9" height="0.9" fill="#c4c4c4"/><rect x="336.1" y="812.9" width="0.9" height="0.9" fill="#c4c4c4"/><rect x="335.8" y="796.4" width="0.9" height="0.9" fill="#c4c4c4"/><rect x="339.0" y="758.9" width="0.9" height="0.9" fill="#c4c4c4"/><rect x="342.8" y="784.7" width="0.9" height="0.9" fill="#c4c4c4"/><rect x="336.7" y="817.7" width="0.9" height="0.9" fill="#c4c4c4"/><rect x="343.6" y="790.1" width="0.9" height="0.9" fill="#c4c4c4"/><rect x="343.7" y="786.5" width="0.9" height="0.9" fill="#c4c4c4"/><rect x="335.0" y="771.7" width="0.9" height="0.9" fill="#c4c4c4"/><rect x="342.5" y="803.1" width="0.9" height="0.9" fill="#c4c4c4"/><rect x="340.4" y="788.3" width="0.9" height="0.9" fill="#c4c4c4"/><rect x="340.3" y="784.2" width="0.9" height="0.9" fill="#c4c4c4"/><rect x="338.0" y="756.2" width="0.9" height="0.9" fill="#c4c4c4"/><rect x="335.6" y="771.9" width="0.9" height="0.9" fill="#c4c4c4"/><rect x="342.1" y="778.1" width="0.9" height="0.9" fill="#c4c4c4"/><rect x="337.0" y="763.5" width="0.9" height="0.9" fill="#c4c4c4"/><rect x="330.0" y="795.1" width="0.9" height="0.9" fill="#c4c4c4"/><rect x="334.5" y="776.8" width="0.9" height="0.9" fill="#c4c4c4"/><rect x="334.7" y="800.0" width="0.9" height="0.9" fill="#c4c4c4"/><rect x="330.2" y="794.5" width="0.9" height="0.9" fill="#c4c4c4"/><rect x="342.0" y="789.7" width="0.9" height="0.9" fill="#c4c4c4"/>
<line x1="144.05" y1="798" x2="144.05" y2="808.2" stroke="#aaa" stroke-width="0.5"/><line x1="144.05" y1="814.8" x2="144.05" y2="826" stroke="#aaa" stroke-width="0.5"/><rect x="140.5" y="808.2" width="7.0" height="6.6" fill="none" stroke="#999" stroke-width="0.5"/><line x1="140.5" y1="812.3" x2="147.5" y2="812.3" stroke="#333" stroke-width="1.1"/><line x1="208.5" y1="796" x2="208.5" y2="809.4" stroke="#aaa" stroke-width="0.5"/><line x1="208.5" y1="819.3" x2="208.5" y2="830" stroke="#aaa" stroke-width="0.5"/><rect x="205.3" y="809.4" width="6.4" height="9.9" fill="none" stroke="#999" stroke-width="0.5"/><line x1="205.3" y1="816.2" x2="211.7" y2="816.2" stroke="#333" stroke-width="1.1"/><line x1="273.0" y1="804" x2="273.0" y2="810.1" stroke="#aaa" stroke-width="0.5"/><line x1="273.0" y1="816.3" x2="273.0" y2="822" stroke="#aaa" stroke-width="0.5"/><rect x="269.3" y="810.1" width="7.2" height="6.2" fill="none" stroke="#999" stroke-width="0.5"/><line x1="269.3" y1="813.7" x2="276.5" y2="813.7" stroke="#333" stroke-width="1.1"/><line x1="337.4" y1="760" x2="337.4" y2="776.5" stroke="#aaa" stroke-width="0.5"/><line x1="337.4" y1="796.5" x2="337.4" y2="812" stroke="#aaa" stroke-width="0.5"/><rect x="334.3" y="776.5" width="6.5" height="20.0" fill="none" stroke="#999" stroke-width="0.5"/><line x1="334.3" y1="787.4" x2="340.8" y2="787.4" stroke="#333" stroke-width="1.1"/>
<rect x="105.5" y="731.3" width="271.0" height="164.9" fill="none" stroke="#9e9e9e" stroke-width="0.9"/>
<line x1="103.0" y1="864.7" x2="105.5" y2="864.7" stroke="#9e9e9e" stroke-width="0.8"/><text x="102.1" y="867.9" text-anchor="end" font-size="11" fill="#111">0</text><line x1="103.0" y1="820.0" x2="105.5" y2="820.0" stroke="#9e9e9e" stroke-width="0.8"/><text x="102.1" y="823.2" text-anchor="end" font-size="11" fill="#111">5</text><line x1="103.0" y1="775.2" x2="105.5" y2="775.2" stroke="#9e9e9e" stroke-width="0.8"/><text x="102.1" y="778.4" text-anchor="end" font-size="11" fill="#111">10</text>
<text x="111.3" y="746.4" font-size="11" fill="#111">CCL20</text>
<text transform="translate(78.5,813.6) rotate(-90)" text-anchor="middle" font-size="11" fill="#111">NPX</text>
<line x1="448.9" y1="888.3" x2="719.4" y2="888.3" stroke="#f2f2f2" stroke-width="0.5"/><line x1="448.9" y1="846.3" x2="719.4" y2="846.3" stroke="#f2f2f2" stroke-width="0.5"/><line x1="448.9" y1="804.3" x2="719.4" y2="804.3" stroke="#f2f2f2" stroke-width="0.5"/><line x1="448.9" y1="762.3" x2="719.4" y2="762.3" stroke="#f2f2f2" stroke-width="0.5"/><line x1="448.9" y1="867.3" x2="719.4" y2="867.3" stroke="#ebebeb" stroke-width="0.8"/><line x1="448.9" y1="825.3" x2="719.4" y2="825.3" stroke="#ebebeb" stroke-width="0.8"/><line x1="448.9" y1="783.3" x2="719.4" y2="783.3" stroke="#ebebeb" stroke-width="0.8"/><line x1="448.9" y1="741.3" x2="719.4" y2="741.3" stroke="#ebebeb" stroke-width="0.8"/><line x1="487.6" y1="731.3" x2="487.6" y2="896.6" stroke="#ebebeb" stroke-width="0.8"/><line x1="552.0" y1="731.3" x2="552.0" y2="896.6" stroke="#ebebeb" stroke-width="0.8"/><line x1="616.4" y1="731.3" x2="616.4" y2="896.6" stroke="#ebebeb" stroke-width="0.8"/><line x1="680.9" y1="731.3" x2="680.9" y2="896.6" stroke="#ebebeb" stroke-width="0.8"/>
<path d="M487.50,795.60 C487.73,795.90 488.38,796.75 488.90,797.40 C489.42,798.05 490.60,798.80 490.60,799.50 C490.60,800.20 489.38,801.05 488.90,801.60 C488.42,802.15 487.90,801.85 487.70,802.80 C487.50,803.75 487.37,806.40 487.70,807.30 C488.03,808.20 489.02,807.78 489.70,808.20 C490.38,808.62 491.25,809.25 491.80,809.80 C492.35,810.35 492.52,811.02 493.00,811.50 C493.48,811.98 493.73,812.28 494.70,812.70 C495.67,813.12 497.02,813.58 498.80,814.00 C500.58,814.42 503.33,814.80 505.40,815.20 C507.47,815.60 509.55,815.98 511.20,816.40 C512.85,816.82 514.37,817.35 515.30,817.70 C516.23,818.05 517.20,818.17 516.80,818.50 C516.40,818.83 514.52,819.28 512.90,819.70 C511.28,820.12 509.03,820.58 507.10,821.00 C505.17,821.42 503.37,821.72 501.30,822.20 C499.23,822.68 496.28,823.35 494.70,823.90 C493.12,824.45 492.35,825.02 491.80,825.50 C491.25,825.98 491.68,826.38 491.40,826.80 C491.12,827.22 490.58,827.53 490.10,828.00 C489.62,828.47 488.93,828.98 488.50,829.60 C488.07,830.22 487.67,831.35 487.50,831.70 C487.33,831.35 486.93,830.22 486.50,829.60 C486.07,828.98 485.38,828.47 484.90,828.00 C484.42,827.53 483.88,827.22 483.60,826.80 C483.32,826.38 483.75,825.98 483.20,825.50 C482.65,825.02 481.88,824.45 480.30,823.90 C478.72,823.35 475.77,822.68 473.70,822.20 C471.63,821.72 469.83,821.42 467.90,821.00 C465.97,820.58 463.72,820.12 462.10,819.70 C460.48,819.28 458.60,818.83 458.20,818.50 C457.80,818.17 458.77,818.05 459.70,817.70 C460.63,817.35 462.15,816.82 463.80,816.40 C465.45,815.98 467.53,815.60 469.60,815.20 C471.67,814.80 474.42,814.42 476.20,814.00 C477.98,813.58 479.33,813.12 480.30,812.70 C481.27,812.28 481.52,811.98 482.00,811.50 C482.48,811.02 482.65,810.35 483.20,809.80 C483.75,809.25 484.62,808.62 485.30,808.20 C485.98,807.78 486.97,808.20 487.30,807.30 C487.63,806.40 487.50,803.75 487.30,802.80 C487.10,801.85 486.58,802.15 486.10,801.60 C485.62,801.05 484.40,800.20 484.40,799.50 C484.40,798.80 485.58,798.05 486.10,797.40 C486.62,796.75 487.27,795.90 487.50,795.60 Z" fill="none" stroke="#5a5a5a" stroke-width="0.7"/><line x1="552.0" y1="740.0" x2="552.0" y2="749.7" stroke="#8a8a8a" stroke-width="1.1"/><line x1="552.0" y1="825.6" x2="552.0" y2="831" stroke="#8a8a8a" stroke-width="1.1"/><path d="M552.00,749.20 C552.12,751.37 552.38,759.02 552.70,762.20 C553.02,765.38 553.43,766.00 553.90,768.30 C554.37,770.60 554.92,773.43 555.50,776.00 C556.08,778.57 556.77,781.15 557.40,783.70 C558.03,786.25 558.73,789.47 559.30,791.30 C559.87,793.13 560.92,792.77 560.80,794.70 C560.68,796.63 559.38,800.15 558.60,802.90 C557.82,805.65 556.98,808.43 556.10,811.20 C555.22,813.97 553.98,817.02 553.30,819.50 C552.62,821.98 552.22,825.00 552.00,826.10 C551.78,825.00 551.38,821.98 550.70,819.50 C550.02,817.02 548.78,813.97 547.90,811.20 C547.02,808.43 546.18,805.65 545.40,802.90 C544.62,800.15 543.32,796.63 543.20,794.70 C543.08,792.77 544.13,793.13 544.70,791.30 C545.27,789.47 545.97,786.25 546.60,783.70 C547.23,781.15 547.92,778.57 548.50,776.00 C549.08,773.43 549.63,770.60 550.10,768.30 C550.57,766.00 550.98,765.38 551.30,762.20 C551.62,759.02 551.88,751.37 552.00,749.20 Z" fill="none" stroke="#5a5a5a" stroke-width="0.7"/><line x1="616.4" y1="825.1" x2="616.4" y2="827.7" stroke="#8a8a8a" stroke-width="1.1"/><path d="M616.40,796.30 C616.52,796.65 616.62,797.70 617.10,798.40 C617.58,799.10 618.23,799.80 619.30,800.50 C620.37,801.20 621.87,801.90 623.50,802.60 C625.13,803.30 627.35,804.00 629.10,804.70 C630.85,805.40 632.73,806.10 634.00,806.80 C635.27,807.50 636.70,808.20 636.70,808.90 C636.70,809.60 635.27,810.30 634.00,811.00 C632.73,811.70 630.15,812.47 629.10,813.10 C628.05,813.73 627.87,814.22 627.70,814.80 C627.53,815.38 628.22,816.07 628.10,816.60 C627.98,817.13 627.77,817.43 627.00,818.00 C626.23,818.57 624.78,819.32 623.50,820.00 C622.22,820.68 620.35,821.40 619.30,822.10 C618.25,822.80 617.68,823.62 617.20,824.20 C616.72,824.78 616.53,825.37 616.40,825.60 C616.27,825.37 616.08,824.78 615.60,824.20 C615.12,823.62 614.55,822.80 613.50,822.10 C612.45,821.40 610.58,820.68 609.30,820.00 C608.02,819.32 606.57,818.57 605.80,818.00 C605.03,817.43 604.82,817.13 604.70,816.60 C604.58,816.07 605.27,815.38 605.10,814.80 C604.93,814.22 604.75,813.73 603.70,813.10 C602.65,812.47 600.07,811.70 598.80,811.00 C597.53,810.30 596.10,809.60 596.10,808.90 C596.10,808.20 597.53,807.50 598.80,806.80 C600.07,806.10 601.95,805.40 603.70,804.70 C605.45,804.00 607.67,803.30 609.30,802.60 C610.93,801.90 612.43,801.20 613.50,800.50 C614.57,799.80 615.22,799.10 615.70,798.40 C616.18,797.70 616.28,796.65 616.40,796.30 Z" fill="none" stroke="#5a5a5a" stroke-width="0.7"/><line x1="681.1" y1="738.1" x2="681.1" y2="745.9" stroke="#8a8a8a" stroke-width="1.1"/><line x1="681.1" y1="822.9" x2="681.1" y2="889.2" stroke="#8a8a8a" stroke-width="1.1"/><path d="M681.10,745.40 C681.25,746.27 681.67,748.87 682.00,750.60 C682.33,752.33 682.78,754.07 683.10,755.80 C683.42,757.53 683.63,759.27 683.90,761.00 C684.17,762.73 684.47,764.47 684.70,766.20 C684.93,767.93 685.08,769.67 685.30,771.40 C685.52,773.13 685.72,774.87 686.00,776.60 C686.28,778.33 686.75,780.07 687.00,781.80 C687.25,783.53 687.35,785.27 687.50,787.00 C687.65,788.73 687.95,790.47 687.90,792.20 C687.85,793.93 687.52,795.67 687.20,797.40 C686.88,799.13 686.47,800.87 686.00,802.60 C685.53,804.33 684.92,806.07 684.40,807.80 C683.88,809.53 683.37,811.27 682.90,813.00 C682.43,814.73 681.90,816.47 681.60,818.20 C681.30,819.93 681.18,822.53 681.10,823.40 C681.02,822.53 680.90,819.93 680.60,818.20 C680.30,816.47 679.77,814.73 679.30,813.00 C678.83,811.27 678.32,809.53 677.80,807.80 C677.28,806.07 676.67,804.33 676.20,802.60 C675.73,800.87 675.32,799.13 675.00,797.40 C674.68,795.67 674.35,793.93 674.30,792.20 C674.25,790.47 674.55,788.73 674.70,787.00 C674.85,785.27 674.95,783.53 675.20,781.80 C675.45,780.07 675.92,778.33 676.20,776.60 C676.48,774.87 676.68,773.13 676.90,771.40 C677.12,769.67 677.27,767.93 677.50,766.20 C677.73,764.47 678.03,762.73 678.30,761.00 C678.57,759.27 678.78,757.53 679.10,755.80 C679.42,754.07 679.87,752.33 680.20,750.60 C680.53,748.87 680.95,746.27 681.10,745.40 Z" fill="none" stroke="#5a5a5a" stroke-width="0.7"/>
<rect x="485.4" y="819.5" width="0.9" height="0.9" fill="#c4c4c4"/><rect x="492.0" y="818.2" width="0.9" height="0.9" fill="#c4c4c4"/><rect x="487.5" y="822.3" width="0.9" height="0.9" fill="#c4c4c4"/><rect x="483.1" y="818.8" width="0.9" height="0.9" fill="#c4c4c4"/><rect x="480.4" y="816.5" width="0.9" height="0.9" fill="#c4c4c4"/><rect x="490.9" y="816.9" width="0.9" height="0.9" fill="#c4c4c4"/><rect x="493.3" y="814.3" width="0.9" height="0.9" fill="#c4c4c4"/><rect x="493.6" y="818.2" width="0.9" height="0.9" fill="#c4c4c4"/><rect x="488.0" y="822.6" width="0.9" height="0.9" fill="#c4c4c4"/><rect x="489.7" y="823.4" width="0.9" height="0.9" fill="#c4c4c4"/><rect x="493.2" y="819.3" width="0.9" height="0.9" fill="#c4c4c4"/><rect x="481.5" y="814.4" width="0.9" height="0.9" fill="#c4c4c4"/><rect x="482.5" y="812.6" width="0.9" height="0.9" fill="#c4c4c4"/><rect x="483.7" y="809.2" width="0.9" height="0.9" fill="#c4c4c4"/><rect x="491.6" y="818.3" width="0.9" height="0.9" fill="#c4c4c4"/><rect x="490.5" y="816.2" width="0.9" height="0.9" fill="#c4c4c4"/><rect x="491.4" y="823.8" width="0.9" height="0.9" fill="#c4c4c4"/><rect x="482.5" y="812.4" width="0.9" height="0.9" fill="#c4c4c4"/><rect x="482.3" y="813.1" width="0.9" height="0.9" fill="#c4c4c4"/><rect x="492.3" y="816.6" width="0.9" height="0.9" fill="#c4c4c4"/><rect x="486.6" y="816.2" width="0.9" height="0.9" fill="#c4c4c4"/><rect x="491.7" y="814.6" width="0.9" height="0.9" fill="#c4c4c4"/><rect x="490.6" y="817.2" width="0.9" height="0.9" fill="#c4c4c4"/><rect x="486.6" y="798.3" width="0.9" height="0.9" fill="#c4c4c4"/><rect x="487.3" y="821.0" width="0.9" height="0.9" fill="#c4c4c4"/><rect x="488.2" y="814.6" width="0.9" height="0.9" fill="#c4c4c4"/><rect x="493.6" y="818.1" width="0.9" height="0.9" fill="#c4c4c4"/><rect x="489.0" y="826.4" width="0.9" height="0.9" fill="#c4c4c4"/><rect x="480.2" y="817.7" width="0.9" height="0.9" fill="#c4c4c4"/><rect x="488.9" y="826.4" width="0.9" height="0.9" fill="#c4c4c4"/><rect x="488.5" y="817.1" width="0.9" height="0.9" fill="#c4c4c4"/><rect x="487.3" y="817.3" width="0.9" height="0.9" fill="#c4c4c4"/><rect x="481.5" y="818.7" width="0.9" height="0.9" fill="#c4c4c4"/><rect x="493.5" y="814.9" width="0.9" height="0.9" fill="#c4c4c4"/><rect x="488.0" y="816.1" width="0.9" height="0.9" fill="#c4c4c4"/><rect x="487.2" y="820.9" width="0.9" height="0.9" fill="#c4c4c4"/><rect x="483.6" y="817.9" width="0.9" height="0.9" fill="#c4c4c4"/><rect x="492.0" y="818.0" width="0.9" height="0.9" fill="#c4c4c4"/><rect x="486.2" y="819.7" width="0.9" height="0.9" fill="#c4c4c4"/><rect x="485.2" y="819.8" width="0.9" height="0.9" fill="#c4c4c4"/><rect x="483.1" y="816.3" width="0.9" height="0.9" fill="#c4c4c4"/><rect x="493.0" y="818.3" width="0.9" height="0.9" fill="#c4c4c4"/><rect x="487.9" y="798.3" width="0.9" height="0.9" fill="#c4c4c4"/><rect x="487.1" y="816.7" width="0.9" height="0.9" fill="#c4c4c4"/><rect x="481.3" y="818.4" width="0.9" height="0.9" fill="#c4c4c4"/><rect x="481.5" y="817.5" width="0.9" height="0.9" fill="#c4c4c4"/><rect x="484.7" y="815.9" width="0.9" height="0.9" fill="#c4c4c4"/><rect x="490.8" y="818.5" width="0.9" height="0.9" fill="#c4c4c4"/><rect x="489.9" y="812.9" width="0.9" height="0.9" fill="#c4c4c4"/><rect x="486.5" y="819.1" width="0.9" height="0.9" fill="#c4c4c4"/><rect x="548.1" y="804.6" width="0.9" height="0.9" fill="#c4c4c4"/><rect x="548.5" y="809.8" width="0.9" height="0.9" fill="#c4c4c4"/><rect x="553.0" y="810.3" width="0.9" height="0.9" fill="#c4c4c4"/><rect x="553.9" y="796.1" width="0.9" height="0.9" fill="#c4c4c4"/><rect x="553.7" y="787.0" width="0.9" height="0.9" fill="#c4c4c4"/><rect x="552.1" y="784.4" width="0.9" height="0.9" fill="#c4c4c4"/><rect x="554.7" y="798.8" width="0.9" height="0.9" fill="#c4c4c4"/><rect x="555.5" y="788.9" width="0.9" height="0.9" fill="#c4c4c4"/><rect x="553.4" y="772.5" width="0.9" height="0.9" fill="#c4c4c4"/><rect x="552.1" y="801.9" width="0.9" height="0.9" fill="#c4c4c4"/><rect x="551.3" y="819.6" width="0.9" height="0.9" fill="#c4c4c4"/><rect x="551.5" y="802.0" width="0.9" height="0.9" fill="#c4c4c4"/><rect x="556.8" y="800.5" width="0.9" height="0.9" fill="#c4c4c4"/><rect x="553.7" y="772.7" width="0.9" height="0.9" fill="#c4c4c4"/><rect x="553.0" y="817.4" width="0.9" height="0.9" fill="#c4c4c4"/><rect x="550.6" y="798.3" width="0.9" height="0.9" fill="#c4c4c4"/><rect x="556.7" y="794.9" width="0.9" height="0.9" fill="#c4c4c4"/><rect x="546.0" y="798.5" width="0.9" height="0.9" fill="#c4c4c4"/><rect x="552.4" y="797.3" width="0.9" height="0.9" fill="#c4c4c4"/><rect x="553.9" y="806.8" width="0.9" height="0.9" fill="#c4c4c4"/><rect x="554.8" y="804.8" width="0.9" height="0.9" fill="#c4c4c4"/><rect x="549.6" y="800.4" width="0.9" height="0.9" fill="#c4c4c4"/><rect x="555.0" y="810.7" width="0.9" height="0.9" fill="#c4c4c4"/><rect x="553.2" y="769.4" width="0.9" height="0.9" fill="#c4c4c4"/><rect x="551.0" y="796.9" width="0.9" height="0.9" fill="#c4c4c4"/><rect x="547.6" y="787.4" width="0.9" height="0.9" fill="#c4c4c4"/><rect x="550.8" y="779.2" width="0.9" height="0.9" fill="#c4c4c4"/><rect x="556.4" y="786.9" width="0.9" height="0.9" fill="#c4c4c4"/><rect x="554.2" y="789.5" width="0.9" height="0.9" fill="#c4c4c4"/><rect x="553.4" y="790.2" width="0.9" height="0.9" fill="#c4c4c4"/><rect x="548.7" y="778.6" width="0.9" height="0.9" fill="#c4c4c4"/><rect x="548.7" y="801.6" width="0.9" height="0.9" fill="#c4c4c4"/><rect x="546.4" y="799.3" width="0.9" height="0.9" fill="#c4c4c4"/><rect x="550.7" y="795.6" width="0.9" height="0.9" fill="#c4c4c4"/><rect x="551.9" y="778.2" width="0.9" height="0.9" fill="#c4c4c4"/><rect x="552.3" y="764.6" width="0.9" height="0.9" fill="#c4c4c4"/><rect x="548.8" y="791.8" width="0.9" height="0.9" fill="#c4c4c4"/><rect x="555.9" y="792.0" width="0.9" height="0.9" fill="#c4c4c4"/><rect x="546.5" y="790.0" width="0.9" height="0.9" fill="#c4c4c4"/><rect x="554.5" y="783.8" width="0.9" height="0.9" fill="#c4c4c4"/><rect x="547.5" y="804.0" width="0.9" height="0.9" fill="#c4c4c4"/><rect x="548.6" y="792.3" width="0.9" height="0.9" fill="#c4c4c4"/><rect x="547.4" y="794.4" width="0.9" height="0.9" fill="#c4c4c4"/><rect x="545.5" y="799.6" width="0.9" height="0.9" fill="#c4c4c4"/><rect x="552.6" y="817.6" width="0.9" height="0.9" fill="#c4c4c4"/><rect x="550.7" y="782.9" width="0.9" height="0.9" fill="#c4c4c4"/><rect x="557.9" y="795.7" width="0.9" height="0.9" fill="#c4c4c4"/><rect x="557.3" y="794.1" width="0.9" height="0.9" fill="#c4c4c4"/><rect x="556.3" y="799.1" width="0.9" height="0.9" fill="#c4c4c4"/><rect x="551.5" y="742.4" width="0.9" height="0.9" fill="#c4c4c4"/><rect x="551.2" y="785.7" width="0.9" height="0.9" fill="#c4c4c4"/><rect x="546.9" y="789.0" width="0.9" height="0.9" fill="#c4c4c4"/><rect x="551.1" y="817.7" width="0.9" height="0.9" fill="#c4c4c4"/><rect x="554.5" y="780.4" width="0.9" height="0.9" fill="#c4c4c4"/><rect x="553.3" y="803.8" width="0.9" height="0.9" fill="#c4c4c4"/><rect x="556.0" y="784.4" width="0.9" height="0.9" fill="#c4c4c4"/><rect x="549.1" y="786.6" width="0.9" height="0.9" fill="#c4c4c4"/><rect x="549.5" y="786.1" width="0.9" height="0.9" fill="#c4c4c4"/><rect x="552.2" y="798.5" width="0.9" height="0.9" fill="#c4c4c4"/><rect x="553.1" y="795.6" width="0.9" height="0.9" fill="#c4c4c4"/><rect x="547.9" y="787.8" width="0.9" height="0.9" fill="#c4c4c4"/><rect x="550.8" y="815.8" width="0.9" height="0.9" fill="#c4c4c4"/><rect x="551.8" y="757.8" width="0.9" height="0.9" fill="#c4c4c4"/><rect x="551.4" y="772.1" width="0.9" height="0.9" fill="#c4c4c4"/><rect x="553.1" y="816.3" width="0.9" height="0.9" fill="#c4c4c4"/><rect x="549.6" y="787.5" width="0.9" height="0.9" fill="#c4c4c4"/><rect x="555.3" y="795.4" width="0.9" height="0.9" fill="#c4c4c4"/><rect x="546.2" y="791.7" width="0.9" height="0.9" fill="#c4c4c4"/><rect x="554.2" y="797.1" width="0.9" height="0.9" fill="#c4c4c4"/><rect x="548.8" y="792.7" width="0.9" height="0.9" fill="#c4c4c4"/><rect x="552.7" y="808.0" width="0.9" height="0.9" fill="#c4c4c4"/><rect x="549.5" y="789.2" width="0.9" height="0.9" fill="#c4c4c4"/><rect x="553.8" y="783.0" width="0.9" height="0.9" fill="#c4c4c4"/><rect x="552.0" y="806.5" width="0.9" height="0.9" fill="#c4c4c4"/><rect x="551.8" y="797.0" width="0.9" height="0.9" fill="#c4c4c4"/><rect x="556.0" y="796.2" width="0.9" height="0.9" fill="#c4c4c4"/><rect x="552.2" y="819.8" width="0.9" height="0.9" fill="#c4c4c4"/><rect x="556.1" y="802.0" width="0.9" height="0.9" fill="#c4c4c4"/><rect x="549.1" y="785.8" width="0.9" height="0.9" fill="#c4c4c4"/><rect x="551.7" y="803.0" width="0.9" height="0.9" fill="#c4c4c4"/><rect x="545.1" y="791.7" width="0.9" height="0.9" fill="#c4c4c4"/><rect x="553.0" y="814.5" width="0.9" height="0.9" fill="#c4c4c4"/><rect x="545.8" y="801.5" width="0.9" height="0.9" fill="#c4c4c4"/><rect x="552.1" y="763.6" width="0.9" height="0.9" fill="#c4c4c4"/><rect x="554.0" y="801.3" width="0.9" height="0.9" fill="#c4c4c4"/><rect x="547.4" y="802.4" width="0.9" height="0.9" fill="#c4c4c4"/><rect x="548.3" y="790.8" width="0.9" height="0.9" fill="#c4c4c4"/><rect x="547.5" y="782.8" width="0.9" height="0.9" fill="#c4c4c4"/><rect x="554.7" y="780.5" width="0.9" height="0.9" fill="#c4c4c4"/><rect x="551.8" y="811.9" width="0.9" height="0.9" fill="#c4c4c4"/><rect x="555.0" y="805.3" width="0.9" height="0.9" fill="#c4c4c4"/><rect x="551.3" y="800.8" width="0.9" height="0.9" fill="#c4c4c4"/><rect x="556.0" y="788.5" width="0.9" height="0.9" fill="#c4c4c4"/><rect x="550.8" y="767.2" width="0.9" height="0.9" fill="#c4c4c4"/><rect x="549.1" y="785.3" width="0.9" height="0.9" fill="#c4c4c4"/><rect x="550.1" y="769.6" width="0.9" height="0.9" fill="#c4c4c4"/><rect x="552.2" y="819.6" width="0.9" height="0.9" fill="#c4c4c4"/><rect x="553.7" y="798.4" width="0.9" height="0.9" fill="#c4c4c4"/><rect x="551.3" y="800.7" width="0.9" height="0.9" fill="#c4c4c4"/><rect x="553.2" y="796.9" width="0.9" height="0.9" fill="#c4c4c4"/><rect x="555.1" y="793.3" width="0.9" height="0.9" fill="#c4c4c4"/><rect x="551.7" y="788.1" width="0.9" height="0.9" fill="#c4c4c4"/><rect x="551.6" y="759.0" width="0.9" height="0.9" fill="#c4c4c4"/><rect x="551.0" y="792.6" width="0.9" height="0.9" fill="#c4c4c4"/><rect x="555.5" y="785.9" width="0.9" height="0.9" fill="#c4c4c4"/><rect x="548.7" y="801.4" width="0.9" height="0.9" fill="#c4c4c4"/><rect x="556.3" y="784.2" width="0.9" height="0.9" fill="#c4c4c4"/><rect x="553.4" y="806.4" width="0.9" height="0.9" fill="#c4c4c4"/><rect x="549.5" y="812.7" width="0.9" height="0.9" fill="#c4c4c4"/><rect x="551.5" y="770.5" width="0.9" height="0.9" fill="#c4c4c4"/><rect x="618.6" y="808.8" width="0.9" height="0.9" fill="#c4c4c4"/><rect x="620.7" y="806.2" width="0.9" height="0.9" fill="#c4c4c4"/><rect x="618.7" y="805.1" width="0.9" height="0.9" fill="#c4c4c4"/><rect x="609.7" y="816.4" width="0.9" height="0.9" fill="#c4c4c4"/><rect x="622.7" y="804.7" width="0.9" height="0.9" fill="#c4c4c4"/><rect x="612.7" y="819.4" width="0.9" height="0.9" fill="#c4c4c4"/><rect x="617.9" y="821.1" width="0.9" height="0.9" fill="#c4c4c4"/><rect x="610.3" y="806.4" width="0.9" height="0.9" fill="#c4c4c4"/><rect x="613.5" y="819.8" width="0.9" height="0.9" fill="#c4c4c4"/><rect x="619.1" y="817.9" width="0.9" height="0.9" fill="#c4c4c4"/><rect x="617.6" y="802.0" width="0.9" height="0.9" fill="#c4c4c4"/><rect x="620.7" y="817.7" width="0.9" height="0.9" fill="#c4c4c4"/><rect x="621.9" y="812.1" width="0.9" height="0.9" fill="#c4c4c4"/><rect x="619.7" y="816.2" width="0.9" height="0.9" fill="#c4c4c4"/><rect x="616.6" y="811.2" width="0.9" height="0.9" fill="#c4c4c4"/><rect x="614.5" y="808.8" width="0.9" height="0.9" fill="#c4c4c4"/><rect x="619.4" y="802.8" width="0.9" height="0.9" fill="#c4c4c4"/><rect x="616.9" y="806.7" width="0.9" height="0.9" fill="#c4c4c4"/><rect x="618.2" y="808.6" width="0.9" height="0.9" fill="#c4c4c4"/><rect x="622.0" y="819.5" width="0.9" height="0.9" fill="#c4c4c4"/><rect x="681.9" y="766.3" width="0.9" height="0.9" fill="#c4c4c4"/><rect x="682.9" y="776.1" width="0.9" height="0.9" fill="#c4c4c4"/><rect x="683.9" y="801.0" width="0.9" height="0.9" fill="#c4c4c4"/><rect x="676.7" y="789.4" width="0.9" height="0.9" fill="#c4c4c4"/><rect x="682.1" y="770.8" width="0.9" height="0.9" fill="#c4c4c4"/><rect x="680.6" y="837.0" width="0.9" height="0.9" fill="#c4c4c4"/><rect x="680.9" y="782.9" width="0.9" height="0.9" fill="#c4c4c4"/><rect x="683.0" y="791.7" width="0.9" height="0.9" fill="#c4c4c4"/><rect x="679.7" y="803.6" width="0.9" height="0.9" fill="#c4c4c4"/><rect x="683.2" y="798.0" width="0.9" height="0.9" fill="#c4c4c4"/><rect x="677.4" y="795.3" width="0.9" height="0.9" fill="#c4c4c4"/><rect x="680.6" y="830.9" width="0.9" height="0.9" fill="#c4c4c4"/><rect x="682.0" y="764.1" width="0.9" height="0.9" fill="#c4c4c4"/><rect x="680.8" y="760.2" width="0.9" height="0.9" fill="#c4c4c4"/><rect x="677.3" y="800.9" width="0.9" height="0.9" fill="#c4c4c4"/><rect x="681.4" y="792.4" width="0.9" height="0.9" fill="#c4c4c4"/><rect x="679.2" y="774.5" width="0.9" height="0.9" fill="#c4c4c4"/><rect x="684.9" y="801.1" width="0.9" height="0.9" fill="#c4c4c4"/><rect x="681.7" y="772.1" width="0.9" height="0.9" fill="#c4c4c4"/><rect x="679.0" y="755.4" width="0.9" height="0.9" fill="#c4c4c4"/><rect x="676.9" y="799.0" width="0.9" height="0.9" fill="#c4c4c4"/><rect x="681.9" y="758.6" width="0.9" height="0.9" fill="#c4c4c4"/><rect x="675.3" y="788.5" width="0.9" height="0.9" fill="#c4c4c4"/><rect x="683.3" y="773.6" width="0.9" height="0.9" fill="#c4c4c4"/><rect x="679.1" y="810.6" width="0.9" height="0.9" fill="#c4c4c4"/><rect x="684.8" y="780.8" width="0.9" height="0.9" fill="#c4c4c4"/><rect x="678.6" y="768.9" width="0.9" height="0.9" fill="#c4c4c4"/><rect x="685.4" y="788.7" width="0.9" height="0.9" fill="#c4c4c4"/><rect x="682.4" y="771.3" width="0.9" height="0.9" fill="#c4c4c4"/><rect x="681.0" y="805.9" width="0.9" height="0.9" fill="#c4c4c4"/><rect x="684.0" y="777.7" width="0.9" height="0.9" fill="#c4c4c4"/><rect x="679.7" y="805.8" width="0.9" height="0.9" fill="#c4c4c4"/><rect x="677.7" y="782.7" width="0.9" height="0.9" fill="#c4c4c4"/><rect x="684.4" y="786.2" width="0.9" height="0.9" fill="#c4c4c4"/><rect x="679.7" y="803.3" width="0.9" height="0.9" fill="#c4c4c4"/><rect x="682.0" y="782.1" width="0.9" height="0.9" fill="#c4c4c4"/><rect x="675.8" y="797.6" width="0.9" height="0.9" fill="#c4c4c4"/><rect x="680.9" y="757.2" width="0.9" height="0.9" fill="#c4c4c4"/><rect x="680.1" y="817.1" width="0.9" height="0.9" fill="#c4c4c4"/><rect x="683.6" y="796.7" width="0.9" height="0.9" fill="#c4c4c4"/><rect x="683.3" y="789.3" width="0.9" height="0.9" fill="#c4c4c4"/><rect x="685.0" y="795.3" width="0.9" height="0.9" fill="#c4c4c4"/><rect x="680.5" y="793.5" width="0.9" height="0.9" fill="#c4c4c4"/><rect x="682.2" y="780.9" width="0.9" height="0.9" fill="#c4c4c4"/><rect x="679.6" y="800.0" width="0.9" height="0.9" fill="#c4c4c4"/><rect x="679.2" y="807.0" width="0.9" height="0.9" fill="#c4c4c4"/><rect x="677.0" y="788.6" width="0.9" height="0.9" fill="#c4c4c4"/><rect x="680.9" y="810.9" width="0.9" height="0.9" fill="#c4c4c4"/><rect x="680.7" y="835.9" width="0.9" height="0.9" fill="#c4c4c4"/><rect x="680.6" y="805.1" width="0.9" height="0.9" fill="#c4c4c4"/><rect x="682.8" y="793.9" width="0.9" height="0.9" fill="#c4c4c4"/><rect x="681.4" y="780.4" width="0.9" height="0.9" fill="#c4c4c4"/><rect x="686.0" y="794.0" width="0.9" height="0.9" fill="#c4c4c4"/><rect x="679.4" y="757.2" width="0.9" height="0.9" fill="#c4c4c4"/><rect x="681.9" y="804.9" width="0.9" height="0.9" fill="#c4c4c4"/><rect x="679.9" y="784.5" width="0.9" height="0.9" fill="#c4c4c4"/><rect x="686.0" y="792.6" width="0.9" height="0.9" fill="#c4c4c4"/><rect x="684.2" y="793.0" width="0.9" height="0.9" fill="#c4c4c4"/><rect x="679.1" y="802.3" width="0.9" height="0.9" fill="#c4c4c4"/><rect x="683.6" y="798.2" width="0.9" height="0.9" fill="#c4c4c4"/><rect x="686.3" y="791.3" width="0.9" height="0.9" fill="#c4c4c4"/><rect x="681.8" y="790.7" width="0.9" height="0.9" fill="#c4c4c4"/><rect x="683.7" y="801.3" width="0.9" height="0.9" fill="#c4c4c4"/><rect x="680.8" y="770.5" width="0.9" height="0.9" fill="#c4c4c4"/><rect x="680.2" y="792.7" width="0.9" height="0.9" fill="#c4c4c4"/><rect x="681.3" y="795.2" width="0.9" height="0.9" fill="#c4c4c4"/><rect x="684.4" y="780.0" width="0.9" height="0.9" fill="#c4c4c4"/><rect x="684.1" y="796.6" width="0.9" height="0.9" fill="#c4c4c4"/><rect x="679.1" y="792.5" width="0.9" height="0.9" fill="#c4c4c4"/><rect x="684.6" y="789.3" width="0.9" height="0.9" fill="#c4c4c4"/><rect x="677.6" y="795.4" width="0.9" height="0.9" fill="#c4c4c4"/><rect x="679.4" y="777.3" width="0.9" height="0.9" fill="#c4c4c4"/><rect x="684.4" y="794.4" width="0.9" height="0.9" fill="#c4c4c4"/><rect x="683.7" y="799.9" width="0.9" height="0.9" fill="#c4c4c4"/><rect x="675.8" y="784.6" width="0.9" height="0.9" fill="#c4c4c4"/><rect x="679.9" y="763.6" width="0.9" height="0.9" fill="#c4c4c4"/><rect x="676.8" y="799.5" width="0.9" height="0.9" fill="#c4c4c4"/><rect x="685.3" y="790.8" width="0.9" height="0.9" fill="#c4c4c4"/><rect x="678.6" y="797.7" width="0.9" height="0.9" fill="#c4c4c4"/><rect x="685.1" y="799.0" width="0.9" height="0.9" fill="#c4c4c4"/><rect x="679.5" y="789.7" width="0.9" height="0.9" fill="#c4c4c4"/><rect x="682.6" y="769.4" width="0.9" height="0.9" fill="#c4c4c4"/><rect x="679.3" y="766.0" width="0.9" height="0.9" fill="#c4c4c4"/><rect x="679.4" y="772.5" width="0.9" height="0.9" fill="#c4c4c4"/><rect x="680.4" y="806.7" width="0.9" height="0.9" fill="#c4c4c4"/><rect x="684.2" y="797.2" width="0.9" height="0.9" fill="#c4c4c4"/><rect x="676.0" y="783.2" width="0.9" height="0.9" fill="#c4c4c4"/><rect x="677.0" y="775.6" width="0.9" height="0.9" fill="#c4c4c4"/><rect x="681.0" y="775.9" width="0.9" height="0.9" fill="#c4c4c4"/><rect x="680.7" y="825.8" width="0.9" height="0.9" fill="#c4c4c4"/><rect x="683.0" y="805.4" width="0.9" height="0.9" fill="#c4c4c4"/><rect x="682.2" y="788.0" width="0.9" height="0.9" fill="#c4c4c4"/><rect x="678.1" y="770.8" width="0.9" height="0.9" fill="#c4c4c4"/><rect x="677.7" y="806.5" width="0.9" height="0.9" fill="#c4c4c4"/><rect x="680.0" y="751.5" width="0.9" height="0.9" fill="#c4c4c4"/><rect x="680.3" y="798.2" width="0.9" height="0.9" fill="#c4c4c4"/><rect x="683.3" y="803.6" width="0.9" height="0.9" fill="#c4c4c4"/><rect x="675.6" y="795.0" width="0.9" height="0.9" fill="#c4c4c4"/><rect x="683.5" y="768.5" width="0.9" height="0.9" fill="#c4c4c4"/><rect x="685.6" y="784.4" width="0.9" height="0.9" fill="#c4c4c4"/><rect x="684.3" y="778.5" width="0.9" height="0.9" fill="#c4c4c4"/><rect x="683.1" y="794.5" width="0.9" height="0.9" fill="#c4c4c4"/><rect x="677.9" y="766.9" width="0.9" height="0.9" fill="#c4c4c4"/><rect x="680.0" y="802.4" width="0.9" height="0.9" fill="#c4c4c4"/><rect x="680.7" y="779.8" width="0.9" height="0.9" fill="#c4c4c4"/><rect x="680.5" y="820.1" width="0.9" height="0.9" fill="#c4c4c4"/><rect x="684.2" y="796.2" width="0.9" height="0.9" fill="#c4c4c4"/><rect x="678.7" y="762.8" width="0.9" height="0.9" fill="#c4c4c4"/><rect x="681.7" y="809.3" width="0.9" height="0.9" fill="#c4c4c4"/><rect x="675.7" y="788.1" width="0.9" height="0.9" fill="#c4c4c4"/><rect x="677.5" y="802.6" width="0.9" height="0.9" fill="#c4c4c4"/><rect x="676.1" y="781.7" width="0.9" height="0.9" fill="#c4c4c4"/><rect x="678.7" y="785.6" width="0.9" height="0.9" fill="#c4c4c4"/><rect x="681.6" y="799.1" width="0.9" height="0.9" fill="#c4c4c4"/><rect x="683.8" y="793.4" width="0.9" height="0.9" fill="#c4c4c4"/><rect x="681.3" y="764.0" width="0.9" height="0.9" fill="#c4c4c4"/><rect x="682.9" y="785.5" width="0.9" height="0.9" fill="#c4c4c4"/><rect x="683.0" y="800.5" width="0.9" height="0.9" fill="#c4c4c4"/><rect x="683.1" y="774.6" width="0.9" height="0.9" fill="#c4c4c4"/><rect x="681.6" y="793.6" width="0.9" height="0.9" fill="#c4c4c4"/>
<line x1="487.5" y1="810" x2="487.5" y2="817.3" stroke="#aaa" stroke-width="0.5"/><line x1="487.5" y1="819.7" x2="487.5" y2="826" stroke="#aaa" stroke-width="0.5"/><rect x="484.3" y="817.3" width="6.6" height="2.4" fill="none" stroke="#999" stroke-width="0.5"/><line x1="484.3" y1="818.5" x2="490.9" y2="818.5" stroke="#333" stroke-width="1.1"/><line x1="552.0" y1="772" x2="552.0" y2="786.2" stroke="#aaa" stroke-width="0.5"/><line x1="552.0" y1="802.9" x2="552.0" y2="815" stroke="#aaa" stroke-width="0.5"/><rect x="548.3" y="786.2" width="7.0" height="16.7" fill="none" stroke="#999" stroke-width="0.5"/><line x1="548.3" y1="794.9" x2="555.3" y2="794.9" stroke="#333" stroke-width="1.1"/><line x1="616.4" y1="803.3" x2="616.4" y2="808.5" stroke="#aaa" stroke-width="0.5"/><line x1="616.4" y1="816.2" x2="616.4" y2="820.4" stroke="#aaa" stroke-width="0.5"/><rect x="613.3" y="808.5" width="6.6" height="7.7" fill="none" stroke="#999" stroke-width="0.5"/><line x1="613.3" y1="810.4" x2="619.9" y2="810.4" stroke="#333" stroke-width="1.1"/><line x1="681.1" y1="755" x2="681.1" y2="775.5" stroke="#aaa" stroke-width="0.5"/><line x1="681.1" y1="796.9" x2="681.1" y2="815" stroke="#aaa" stroke-width="0.5"/><rect x="677.2" y="775.5" width="7.5" height="21.4" fill="none" stroke="#999" stroke-width="0.5"/><line x1="677.2" y1="788.3" x2="684.7" y2="788.3" stroke="#333" stroke-width="1.1"/>
<rect x="448.9" y="731.3" width="270.5" height="165.3" fill="none" stroke="#9e9e9e" stroke-width="0.9"/>
<line x1="446.4" y1="867.3" x2="448.9" y2="867.3" stroke="#9e9e9e" stroke-width="0.8"/><text x="442.4" y="870.5" text-anchor="end" font-size="11" fill="#111">0</text><line x1="446.4" y1="825.3" x2="448.9" y2="825.3" stroke="#9e9e9e" stroke-width="0.8"/><text x="442.4" y="828.5" text-anchor="end" font-size="11" fill="#111">5</text><line x1="446.4" y1="783.3" x2="448.9" y2="783.3" stroke="#9e9e9e" stroke-width="0.8"/><text x="442.4" y="786.5" text-anchor="end" font-size="11" fill="#111">10</text><line x1="446.4" y1="741.3" x2="448.9" y2="741.3" stroke="#9e9e9e" stroke-width="0.8"/><text x="442.4" y="744.5" text-anchor="end" font-size="11" fill="#111">15</text>
<text x="455.6" y="745.7" font-size="11" fill="#111">IL8</text>
<text transform="translate(420.0,813.2) rotate(-90)" text-anchor="middle" font-size="11" fill="#111">NPX</text>
<line x1="144.2" y1="896.2" x2="144.2" y2="898.7" stroke="#9e9e9e" stroke-width="0.8"/><text x="144.2" y="908.3" text-anchor="middle" font-size="11" fill="#111">Healthy</text><line x1="208.4" y1="896.2" x2="208.4" y2="898.7" stroke="#9e9e9e" stroke-width="0.8"/><text x="208.4" y="908.3" text-anchor="middle" font-size="11" fill="#111">Non-cancer</text><line x1="272.8" y1="896.2" x2="272.8" y2="898.7" stroke="#9e9e9e" stroke-width="0.8"/><text x="272.8" y="908.3" text-anchor="middle" font-size="11" fill="#111">Benign BT</text><line x1="337.4" y1="896.2" x2="337.4" y2="898.7" stroke="#9e9e9e" stroke-width="0.8"/><text x="337.4" y="908.3" text-anchor="middle" font-size="11" fill="#111">BTC</text><line x1="487.6" y1="896.6" x2="487.6" y2="899.1" stroke="#9e9e9e" stroke-width="0.8"/><text x="487.6" y="908.3" text-anchor="middle" font-size="11" fill="#111">Healthy</text><line x1="552.0" y1="896.6" x2="552.0" y2="899.1" stroke="#9e9e9e" stroke-width="0.8"/><text x="552.0" y="908.3" text-anchor="middle" font-size="11" fill="#111">Non-cancer</text><line x1="616.4" y1="896.6" x2="616.4" y2="899.1" stroke="#9e9e9e" stroke-width="0.8"/><text x="616.4" y="908.3" text-anchor="middle" font-size="11" fill="#111">Benign BT</text><line x1="680.9" y1="896.6" x2="680.9" y2="899.1" stroke="#9e9e9e" stroke-width="0.8"/><text x="680.9" y="908.3" text-anchor="middle" font-size="11" fill="#111">BTC</text>
<text x="-0.4" y="18.7" font-size="22.6" font-weight="bold" text-rendering="geometricPrecision">A</text>
<text x="0" y="577.0" font-size="21.6" font-weight="bold" text-rendering="geometricPrecision">B</text></svg>
</body></html>
